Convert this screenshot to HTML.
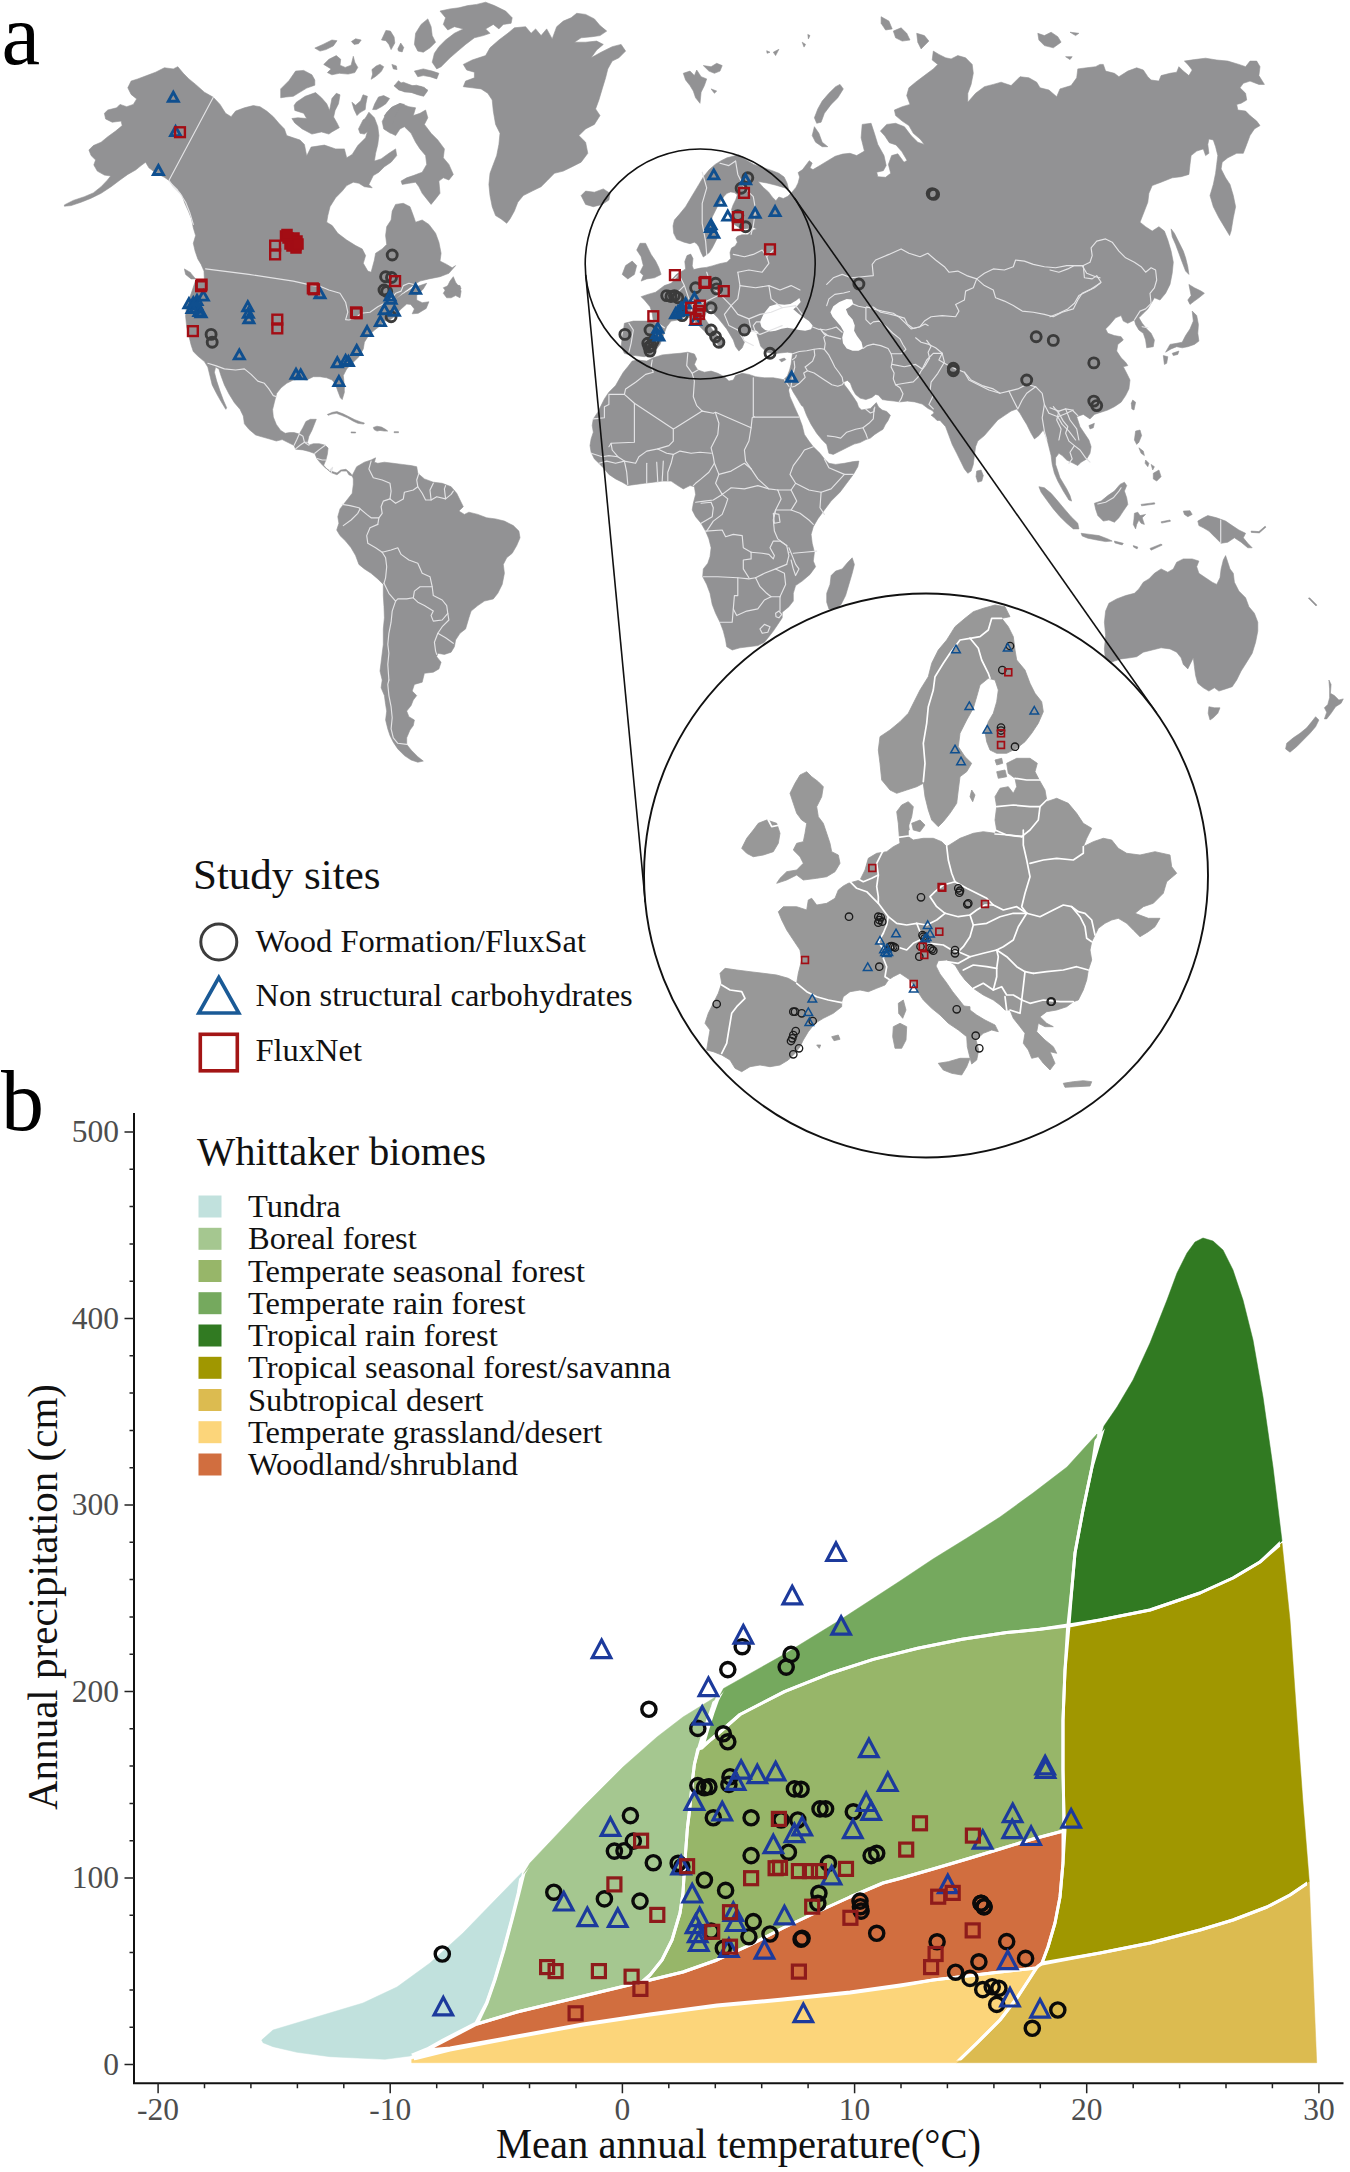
<!DOCTYPE html>
<html><head><meta charset="utf-8"><title>Figure</title>
<style>
html,body{margin:0;padding:0;background:#fff}
body{width:1350px;height:2172px;overflow:hidden}
svg text{font-family:"Liberation Serif","DejaVu Serif",serif}
</style></head><body>
<svg width="1350" height="2172" viewBox="0 0 1350 2172" style="display:block">
<rect width="1350" height="2172" fill="#fff"/>
<g id="map">
<g fill="#929294" stroke="#929294" stroke-width="0.6" stroke-linejoin="round">
<polygon points="204.4,280.0 204.0,271.1 201.1,264.4 197.8,258.9 195.1,251.1 193.3,243.3 195.6,235.6 193.3,227.8 191.6,218.9 188.4,211.1 184.9,203.3 182.2,195.6 177.8,189.3 172.9,184.4 168.9,180.4 164.4,177.3 158.9,174.4 153.3,171.1 148.9,167.8 145.6,162.2 141.1,165.6 135.6,170.0 127.8,174.4 120.0,180.0 111.1,186.7 101.1,193.3 91.1,198.2 81.1,202.2 71.1,205.6 64.4,206.2 64.4,204.9 73.3,200.4 84.4,196.7 93.3,192.9 101.1,186.7 107.1,180.4 110.7,176.0 104.4,175.1 97.3,171.1 93.8,164.9 95.6,160.0 91.1,155.6 88.9,150.0 93.3,145.6 101.1,142.2 107.8,136.7 115.6,131.1 122.2,125.6 121.1,121.1 112.2,122.2 105.6,118.9 104.4,113.3 107.8,110.0 116.7,107.8 120.0,104.4 126.7,106.7 133.3,104.4 136.7,98.9 131.1,94.4 127.8,87.8 131.1,81.1 137.8,78.9 146.7,75.6 155.6,72.2 164.4,67.8 173.3,68.9 177.8,66.7 183.3,73.3 188.9,78.9 195.6,84.4 204.4,92.2 213.3,97.3 220.0,104.4 225.6,113.3 231.1,116.7 235.6,111.1 244.4,107.8 253.3,105.6 260.0,106.7 266.7,111.1 273.3,116.7 278.9,123.3 284.4,128.9 286.7,135.6 293.3,137.8 300.0,140.0 304.4,144.4 306.7,156.0 311.1,147.1 324.4,145.1 335.6,148.9 344.4,148.9 346.7,157.8 352.2,154.4 357.8,145.6 365.6,137.8 368.9,126.7 365.6,117.8 368.9,112.2 374.4,117.8 377.8,126.7 378.9,135.6 377.8,144.4 375.6,153.3 374.4,161.1 381.1,158.9 388.9,153.3 395.6,148.9 396.7,155.6 391.1,162.2 384.4,166.7 378.9,172.2 373.3,175.6 368.9,184.4 372.2,187.8 364.4,186.7 358.9,183.3 353.3,182.2 346.7,185.6 342.2,191.1 335.6,197.8 330.0,206.7 327.8,215.6 326.7,222.2 332.2,225.6 337.8,233.3 346.7,240.0 355.6,245.6 362.2,248.9 365.6,255.6 363.3,263.3 367.8,271.1 371.1,272.2 374.4,260.0 375.6,253.3 382.2,248.9 386.7,244.4 385.6,235.6 386.7,226.7 391.1,220.0 392.2,211.1 395.6,204.4 403.3,203.3 410.0,206.7 413.3,215.6 415.6,222.2 422.2,220.0 428.9,224.4 435.6,233.3 438.9,242.2 441.1,253.3 440.0,261.1 446.7,264.4 452.2,267.8 455.6,265.6 448.9,273.3 440.0,276.7 428.9,278.9 420.0,281.1 411.1,286.7 402.2,293.3 395.6,298.9 404.4,293.3 413.3,287.8 426.7,283.3 423.3,288.9 416.7,295.6 416.7,300.0 422.2,302.7 428.9,301.8 426.2,308.4 418.2,313.3 412.2,313.8 414.4,308.9 410.7,304.4 406.7,304.0 400.0,310.0 395.6,315.6 390.0,320.0 384.4,321.1 378.9,326.7 373.3,331.1 367.8,336.7 364.4,342.2 363.3,348.9 358.9,356.7 352.2,363.3 346.7,368.9 343.3,375.6 344.4,386.7 342.2,395.6 341.8,376.7 344.0,384.4 344.4,392.2 342.2,399.6 340.4,397.8 337.8,391.1 335.6,384.4 332.2,380.0 326.7,377.8 320.0,376.7 313.3,376.7 306.7,380.0 300.0,378.9 293.3,380.0 286.7,383.3 281.1,387.8 276.7,393.3 274.4,402.2 272.6,409.6 273.3,417.0 276.3,424.4 280.7,430.4 285.2,433.3 289.6,432.6 294.1,432.6 299.3,434.1 303.0,427.4 305.9,421.5 310.4,419.3 316.3,419.3 311.9,430.4 308.9,436.3 307.4,442.2 308.9,445.2 313.3,443.7 319.3,443.7 325.2,445.2 328.1,448.1 327.4,454.1 325.9,460.0 323.7,465.2 326.7,468.9 331.1,472.6 337.0,474.8 341.5,471.1 346.7,471.1 348.9,474.8 352.6,476.3 350.4,473.0 345.9,469.3 340.7,470.1 337.0,473.0 329.6,470.7 325.2,467.7 320.7,463.3 317.0,458.8 314.8,453.6 308.9,451.4 303.0,449.9 295.6,449.2 294.1,445.5 288.1,442.5 282.2,439.6 276.3,441.0 268.9,438.8 260.0,436.3 255.6,434.9 248.9,429.3 244.4,423.8 243.3,416.0 240.0,409.3 234.4,402.7 228.9,393.8 224.4,384.9 221.1,376.0 218.9,368.9 215.6,367.1 214.4,372.2 216.7,381.1 220.0,391.1 223.3,400.0 226.7,407.8 225.8,409.3 221.1,401.6 216.7,393.8 212.2,384.9 210.0,376.0 207.8,367.1 204.4,361.6 197.8,356.0 193.3,351.6 191.1,344.9 188.9,336.0 186.7,327.1 185.6,316.0 186.7,304.9 191.1,293.8 195.6,280.4"/>
<polygon points="384.4,115.6 391.1,107.8 400.0,103.3 408.9,106.7 415.6,107.8 413.3,115.6 420.0,113.3 425.6,110.0 427.8,117.8 424.4,124.4 431.1,133.3 437.8,140.0 444.4,148.9 443.3,157.8 448.9,164.4 453.3,174.4 448.9,180.0 443.3,177.8 438.9,181.1 440.0,193.3 435.6,198.9 431.1,204.4 426.7,198.9 422.2,193.3 418.9,186.7 415.6,182.2 408.9,183.3 402.2,184.4 401.1,181.1 406.7,177.8 413.3,175.6 422.2,172.2 426.7,164.4 425.6,155.6 420.0,148.9 415.6,142.2 411.1,133.3 404.4,126.7 400.0,128.9 395.6,135.6 391.1,133.3 387.8,124.4"/>
<polygon points="463.3,64.4 472.2,60.0 485.6,55.6 490.0,47.8 498.9,40.0 507.8,33.3 514.4,27.8 525.6,26.7 531.1,33.3 535.6,28.9 541.1,35.6 546.7,28.9 552.2,38.9 556.7,26.7 563.3,21.1 571.1,17.8 576.7,13.3 585.6,14.4 594.4,18.9 600.0,25.6 606.7,31.1 600.0,35.6 592.2,36.7 581.1,37.8 574.4,42.2 585.6,42.2 596.7,41.1 603.3,44.4 596.7,50.0 591.1,57.8 601.1,52.2 612.2,46.7 621.1,44.4 625.6,51.1 618.9,57.8 612.2,61.1 607.8,68.9 605.6,77.8 602.2,88.9 598.9,100.0 595.6,108.9 600.0,115.6 594.4,124.4 585.6,128.9 578.9,135.6 585.6,142.2 587.8,153.3 581.1,162.2 572.2,166.7 563.3,171.1 554.4,173.3 547.8,180.0 541.1,186.7 532.2,191.1 523.3,195.6 517.8,202.2 514.4,211.1 510.0,218.9 506.7,223.3 501.1,218.9 495.6,215.6 492.2,206.7 490.0,195.6 488.9,184.4 490.0,173.3 493.3,164.4 496.7,155.6 498.9,144.4 500.0,133.3 495.6,124.4 493.3,111.1 492.2,100.0 487.8,93.3 481.1,88.9 472.2,87.8 463.3,86.7 465.6,81.1 474.4,77.8 474.4,72.2 466.7,70.0"/>
<polygon points="581.1,195.6 585.6,191.1 594.4,192.2 603.3,188.9 610.0,193.3 608.9,200.0 602.2,204.4 593.3,206.7 585.6,204.4"/>
<polygon points="440.0,11.1 450.0,8.9 458.9,7.8 467.8,5.6 476.7,4.4 485.6,2.2 494.4,5.6 505.6,11.1 512.2,17.8 511.1,23.3 503.3,24.4 498.9,28.9 493.3,24.4 485.6,28.9 490.0,33.3 483.3,35.6 474.4,37.8 465.6,44.4 457.8,51.1 450.0,57.8 441.1,66.7 436.7,68.9 432.2,62.2 434.4,53.3 438.9,46.7 445.6,40.0 454.4,33.3 463.3,28.9 454.4,26.7 447.8,30.0 443.3,24.4 445.6,17.8"/>
<polygon points="415.6,33.3 421.1,24.4 427.8,18.9 431.1,26.7 432.2,35.6 435.6,42.2 430.0,47.8 423.3,52.2 417.8,51.1 414.4,44.4"/>
<polygon points="414.4,71.1 423.3,68.9 432.2,71.1 438.9,73.3 436.7,78.9 430.0,76.7 423.3,75.6 417.8,76.7"/>
<polygon points="394.4,85.6 403.3,82.2 412.2,85.6 421.1,86.7 427.8,90.0 423.3,95.6 414.4,93.3 407.8,91.1 398.9,90.0"/>
<polygon points="280.7,88.9 288.9,80.7 295.6,71.1 303.7,70.4 311.9,74.8 314.8,80.0 314.8,85.2 306.7,88.1 299.3,92.6 293.3,96.3 285.9,97.0 280.7,97.8"/>
<polygon points="296.3,102.2 305.2,96.3 315.6,92.6 321.5,97.8 326.7,103.7 329.6,110.4 331.9,98.5 336.3,93.3 340.0,94.8 338.5,103.7 335.1,110.4 333.6,117.0 337.0,123.0 339.3,127.7 331.9,131.9 328.9,134.1 321.5,131.9 311.9,134.1 302.2,128.9 294.8,123.0 291.9,118.5 297.8,117.8 306.7,118.5 303.7,113.3 294.8,110.4 294.1,105.5"/>
<polygon points="314.8,48.1 323.0,44.4 331.9,40.0 337.0,40.7 333.3,45.9 325.9,49.6 320.0,51.1"/>
<polygon points="323.7,64.4 328.9,59.3 336.3,55.6 340.7,59.3 340.0,65.2 345.2,67.4 351.1,65.2 353.3,56.3 354.8,62.2 357.8,67.4 354.8,72.6 348.1,74.1 339.3,73.3 331.9,74.8 327.4,72.6 331.1,68.9 327.4,66.7"/>
<polygon points="351.4,41.5 355.6,38.8 361.2,40.0 358.5,43.7 354.1,44.4"/>
<polygon points="371.9,69.6 376.3,65.9 380.0,64.4 383.7,66.7 381.5,71.1 378.5,74.1 374.8,77.0 371.1,79.3 372.6,74.1"/>
<polygon points="381.5,40.0 385.9,30.4 390.4,31.1 394.1,37.0 394.8,43.0 391.1,49.6 388.9,44.4 385.9,40.7"/>
<polygon points="397.8,48.9 400.7,43.0 403.7,47.4 402.2,51.9 398.5,51.1"/>
<polygon points="391.9,64.4 396.3,65.9 397.0,69.6 393.3,68.9"/>
<polygon points="374.8,103.7 378.5,97.0 383.7,95.6 389.6,98.5 385.9,103.7 381.5,106.7 376.3,109.6 372.6,109.6"/>
<polygon points="351.9,102.2 355.6,105.2 360.7,100.7 363.0,94.8 367.4,96.3 365.9,103.7 365.2,109.6 360.0,112.6 357.0,115.6 354.1,109.6"/>
<polygon points="386.7,112.6 392.6,106.7 400.0,103.7 404.4,104.4 398.5,109.6 394.8,117.0 392.6,124.4 395.6,130.4 390.4,133.3 383.7,128.9 382.2,121.5"/>
<polygon points="358.5,128.9 363.0,120.0 368.1,116.3 370.4,123.0 368.9,130.4 364.4,134.1 360.0,133.3"/>
<polygon points="394.1,85.9 398.5,80.7 403.0,84.4 408.9,86.7 416.3,85.2 424.4,87.4 427.4,91.1 423.7,96.3 417.8,94.8 411.9,92.6 404.4,91.9 398.5,89.6"/>
<polygon points="443.3,293.3 446.7,287.8 450.0,281.1 453.3,276.7 455.6,282.2 458.9,286.7 461.1,291.1 460.0,297.8 455.6,295.6 451.1,297.8 446.7,297.8"/>
<polygon points="443.3,287.8 451.1,284.4 460.0,285.6 461.1,288.9 455.6,291.1 446.7,292.2"/>
<polygon points="327.4,414.4 332.6,412.3 337.0,411.6 343.0,413.8 348.9,416.7 354.8,419.7 360.7,421.9 364.4,423.0 363.7,424.1 357.8,423.3 353.3,421.2 347.4,417.8 341.5,415.3 336.3,413.3 331.9,414.1 328.1,415.3"/>
<polygon points="373.3,427.4 377.0,426.2 381.5,427.1 385.9,429.6 387.7,431.1 384.4,431.1 380.0,430.4 377.0,431.1 374.1,429.6"/>
<polygon points="394.1,431.7 398.5,431.7 398.5,432.7 394.1,432.7"/>
<polygon points="351.1,431.9 355.6,432.1 355.6,433.0 351.1,432.9"/>
<polygon points="184.4,268.9 190.0,272.2 195.6,278.9 191.1,278.9 185.6,274.4"/>
<polygon points="352.2,475.6 356.7,466.7 364.4,462.2 371.1,460.0 375.6,457.8 374.4,462.2 377.8,463.3 384.4,462.2 393.3,463.3 402.2,464.4 411.1,465.6 416.7,466.7 417.8,473.3 424.4,478.9 433.3,482.2 442.2,483.3 451.1,486.7 456.7,493.3 460.0,500.0 463.3,506.7 458.9,511.1 464.4,514.4 468.9,512.2 477.8,514.4 486.7,517.8 495.6,518.9 504.4,521.1 513.3,525.6 518.9,531.1 520.0,537.8 516.7,545.6 512.2,553.3 506.7,557.8 503.3,564.4 504.4,573.3 502.2,584.4 497.8,593.3 493.3,598.9 484.4,601.1 477.8,605.6 471.1,611.1 468.9,617.8 465.6,628.9 460.0,633.3 455.6,640.0 454.4,646.7 451.1,652.2 444.4,654.4 437.8,653.3 436.7,656.7 441.1,662.2 438.9,668.9 433.3,672.2 424.4,673.3 422.2,682.2 414.4,684.4 412.2,691.1 416.7,695.6 413.3,700.0 411.1,705.6 406.7,711.1 408.9,716.7 414.4,720.0 413.3,725.6 410.0,730.0 406.7,737.8 406.7,744.4 411.1,750.0 417.8,756.7 423.3,761.1 417.8,762.2 411.1,760.0 404.4,755.6 397.8,748.9 393.3,742.2 390.0,735.6 387.8,728.9 385.6,720.0 386.7,711.1 385.6,704.4 384.4,695.6 381.1,687.8 382.2,680.0 380.0,671.1 381.1,662.2 382.2,653.3 383.3,644.4 383.3,640.0 383.3,628.9 384.4,617.8 384.0,606.7 383.3,595.6 383.3,584.4 377.8,578.9 371.1,573.3 364.4,568.9 358.9,564.4 355.6,555.6 351.1,547.8 345.6,541.1 340.0,535.6 336.7,530.0 338.9,523.3 337.8,516.7 340.0,508.9 344.4,503.3 347.8,498.9 352.2,493.3 353.3,484.4 353.3,478.9"/>
<polygon points="632.2,361.1 637.8,360.0 646.7,361.1 653.3,357.8 662.2,354.9 671.1,354.0 680.0,353.3 687.8,352.2 694.4,354.0 696.7,358.9 694.4,364.4 697.8,370.0 704.4,372.2 711.1,371.1 717.8,373.3 724.4,376.7 728.9,381.1 733.3,380.0 735.6,375.6 742.2,373.3 748.9,374.4 755.6,376.7 764.4,377.8 773.3,377.8 780.0,378.9 784.4,380.0 787.8,386.7 790.0,396.7 794.4,406.7 798.9,416.7 802.2,425.6 804.4,434.4 808.9,441.1 813.3,446.7 820.0,453.3 824.4,458.9 828.9,463.3 835.6,464.4 844.4,463.3 853.3,461.6 858.9,461.1 857.8,466.7 853.3,474.4 846.7,483.3 840.0,492.2 831.1,501.1 824.4,510.0 817.8,518.9 813.3,526.7 811.1,534.4 812.2,543.3 814.4,552.2 813.3,561.1 815.6,566.7 810.0,574.4 802.2,581.1 795.6,585.6 793.3,593.3 793.3,601.1 788.9,606.7 782.2,612.2 782.2,617.8 777.8,624.4 773.3,631.1 768.9,636.7 764.4,642.2 757.8,645.6 748.9,646.7 740.0,647.8 732.2,650.0 726.7,646.7 725.6,640.0 723.3,631.1 720.0,622.2 715.6,613.3 712.2,604.4 710.0,593.3 706.7,584.4 702.7,576.7 703.3,568.9 707.8,563.3 710.0,556.7 711.1,547.8 708.9,538.9 705.6,531.1 701.1,523.3 695.6,516.7 692.2,510.0 693.3,503.3 695.6,494.4 694.4,486.7 690.0,485.6 683.3,488.9 677.8,485.6 671.1,481.1 662.2,481.1 653.3,482.2 644.4,483.3 635.6,484.4 627.8,485.6 622.2,482.2 615.6,478.9 608.9,474.4 604.4,468.9 598.9,463.3 594.4,458.9 591.1,452.2 590.0,445.6 591.1,438.9 593.3,432.2 592.2,425.6 593.3,418.9 597.8,412.2 601.1,405.6 604.4,398.9 608.9,392.2 615.6,385.6 620.0,377.8 623.3,372.2 627.8,366.7"/>
<polygon points="852.2,557.8 854.4,564.4 852.2,573.3 848.9,584.4 845.6,595.6 841.1,604.4 835.6,608.9 828.9,608.9 826.7,602.2 826.7,593.3 830.0,584.4 831.1,575.6 835.6,571.1 842.2,568.9 847.8,562.2"/>
<polygon points="1105.6,662.2 1104.4,648.9 1105.6,635.6 1104.4,622.2 1105.6,611.1 1108.9,603.3 1116.7,598.9 1125.6,595.6 1134.4,593.3 1138.9,588.9 1143.3,582.2 1148.9,578.9 1154.4,573.3 1161.1,568.9 1167.8,572.2 1173.3,568.9 1176.7,562.2 1183.3,558.9 1192.2,558.9 1198.9,561.1 1196.7,566.7 1198.9,573.3 1205.6,577.8 1212.2,582.2 1216.7,584.4 1220.0,577.8 1221.1,568.9 1223.3,560.0 1225.6,555.6 1227.8,562.2 1230.0,568.9 1233.3,573.3 1234.4,582.2 1238.9,591.1 1245.6,597.8 1248.9,606.7 1254.4,613.3 1257.8,622.2 1257.8,631.1 1255.6,642.2 1252.2,653.3 1246.7,662.2 1241.1,671.1 1236.7,680.0 1232.2,686.7 1225.6,688.9 1218.9,691.1 1214.4,687.8 1208.9,691.1 1203.3,687.8 1197.8,683.3 1195.6,675.6 1194.4,666.7 1193.3,657.8 1190.0,664.4 1187.8,668.9 1183.3,664.4 1181.1,657.8 1176.7,652.2 1170.0,648.9 1161.1,647.8 1152.2,650.0 1143.3,652.2 1136.7,656.7 1130.0,657.8 1121.1,658.9 1114.4,661.1 1108.9,663.3"/>
<polygon points="1208.9,706.7 1214.4,707.8 1220.0,707.8 1217.8,713.3 1213.3,717.8 1210.0,720.0 1208.2,713.3"/>
<polygon points="1328.9,680.0 1331.1,684.4 1330.4,693.3 1334.4,695.6 1338.9,700.0 1343.3,698.9 1341.1,703.3 1335.6,706.7 1331.1,713.3 1326.7,718.9 1324.4,718.9 1326.7,712.2 1324.4,707.8 1327.8,704.4 1329.6,697.8 1329.6,688.9"/>
<polygon points="1315.6,716.7 1318.9,720.0 1315.6,726.7 1310.0,733.3 1303.3,740.0 1296.7,746.7 1290.0,752.2 1285.6,748.9 1286.7,743.3 1293.3,737.8 1300.0,733.3 1306.7,727.8 1312.2,721.1"/>
<polygon points="1308.4,598.2 1309.6,597.8 1316.9,605.1 1316.0,606.0"/>
<polygon points="1197.8,521.1 1203.3,517.8 1207.8,515.6 1216.7,517.8 1225.6,521.1 1232.2,525.6 1238.9,530.0 1245.6,533.3 1243.3,537.8 1247.8,543.3 1252.2,547.8 1247.8,547.8 1241.1,542.2 1234.4,537.8 1227.8,542.2 1221.1,543.3 1215.6,537.8 1212.2,534.4 1208.9,531.1 1203.3,527.8 1198.9,525.6"/>
<polygon points="1183.3,511.1 1190.0,510.7 1192.2,514.4 1187.8,516.7 1184.4,514.4"/>
<polygon points="1094.4,503.3 1101.1,501.1 1107.8,495.6 1114.4,491.1 1120.0,484.4 1124.4,482.2 1126.7,485.6 1124.4,491.1 1126.7,497.8 1127.8,504.4 1123.3,511.1 1118.9,517.8 1114.4,522.2 1108.9,520.0 1103.3,521.1 1097.8,515.6 1095.6,508.9"/>
<polygon points="1134.4,513.3 1137.8,512.2 1140.0,515.6 1145.6,514.4 1142.2,517.8 1144.4,524.4 1141.1,523.3 1138.9,520.0 1136.7,524.4 1135.6,528.9 1133.3,524.4 1134.0,518.9"/>
<polygon points="1135.6,431.1 1140.0,430.0 1141.6,435.6 1138.9,442.2 1136.7,444.4 1134.4,440.0"/>
<polygon points="1138.9,447.8 1143.3,451.1 1144.4,455.6 1141.1,453.3"/>
<polygon points="1153.3,473.3 1158.9,470.0 1161.1,476.7 1156.7,481.1 1153.3,478.9"/>
<polygon points="1145.6,460.0 1148.9,463.3 1147.8,466.7 1145.1,463.3"/>
<polygon points="1151.1,464.4 1154.4,466.7 1152.7,470.0"/>
<polygon points="1081.1,533.3 1090.0,534.4 1098.9,535.6 1107.8,538.9 1112.2,541.1 1105.6,541.6 1096.7,540.0 1087.8,538.2 1082.2,536.0"/>
<polygon points="1114.4,541.1 1123.3,543.3 1122.2,544.9 1114.9,542.9"/>
<polygon points="1133.3,545.6 1137.8,547.1 1137.1,548.9 1133.6,547.1"/>
<polygon points="1150.0,548.4 1161.1,544.0 1162.2,545.1 1151.1,550.2"/>
<polygon points="1088.9,425.6 1094.4,423.3 1093.3,427.8 1090.0,428.9"/>
<polygon points="1132.7,400.0 1135.6,402.2 1134.0,410.0 1131.8,408.9 1131.3,403.3"/>
<polygon points="1251.1,531.1 1258.9,531.6 1265.1,526.2 1266.0,527.1 1259.3,532.9 1251.3,532.4"/>
<polygon points="1141.1,504.4 1154.4,502.7 1154.9,504.0 1141.6,505.8"/>
<polygon points="1161.1,521.8 1170.0,520.0 1170.4,521.3 1161.6,523.1"/>
<polygon points="632.2,355.6 624.4,353.3 621.1,346.7 622.2,337.8 623.3,331.1 624.4,323.3 633.3,321.1 644.4,321.1 653.3,321.1 652.2,313.3 650.0,306.7 644.4,300.0 641.1,296.7 647.8,294.4 655.6,292.2 660.0,288.9 664.4,285.6 671.1,283.3 676.7,277.8 680.0,273.3 670.7,280.7 676.7,274.1 683.3,270.4 685.6,268.9 684.8,261.5 687.0,255.6 690.7,254.1 693.0,258.5 692.2,265.9 693.7,269.6 700.4,268.1 706.3,267.4 712.2,265.9 719.6,263.7 727.0,262.2 730.7,258.5 730.0,252.6 731.5,248.1 735.2,245.9 737.4,242.2 735.9,238.5 737.4,236.3 741.9,234.8 747.8,234.8 752.2,230.4 756.7,228.9 753.7,227.4 749.3,228.1 744.8,228.9 738.9,227.4 734.4,224.4 732.2,220.0 733.0,214.1 731.5,209.6 733.0,205.2 735.9,199.3 737.4,194.8 734.4,192.6 730.7,191.9 727.0,193.3 724.1,196.3 721.1,200.7 718.1,205.2 715.2,211.1 712.2,217.0 711.5,221.5 713.7,227.4 716.7,231.9 718.1,236.3 715.2,242.2 712.2,248.1 709.3,252.6 706.3,254.8 703.3,257.0 701.1,252.6 698.9,246.7 696.7,243.7 694.4,242.2 690.0,243.7 684.1,242.2 676.7,239.3 673.7,233.3 673.0,225.9 674.4,220.0 679.6,214.1 685.6,206.7 690.0,199.3 694.4,191.9 698.9,184.4 703.3,177.0 709.3,169.6 715.2,164.4 721.1,160.7 727.0,157.8 733.0,156.3 738.9,154.8 744.8,159.3 753.7,164.4 762.6,167.4 771.5,170.4 778.9,173.3 784.1,177.0 787.0,183.0 788.5,188.9 783.3,187.4 775.9,185.2 767.0,183.0 758.1,181.5 763.3,187.4 768.5,191.9 772.2,197.0 775.9,200.7 778.9,197.0 783.3,198.5 787.8,196.3 792.2,191.9 795.9,187.4 798.1,183.0 799.6,177.0 798.1,172.6 802.6,169.6 807.0,163.7 809.3,160.7 812.2,163.0 810.0,168.1 813.0,169.6 820.4,165.2 827.8,160.7 835.2,156.3 842.6,154.1 850.0,153.3 856.7,155.6 864.4,151.1 861.1,137.8 862.2,124.4 871.1,123.3 874.4,133.3 877.8,144.4 884.0,155.6 886.2,165.6 883.3,170.7 876.7,172.2 877.8,176.7 885.6,177.3 890.7,173.3 888.4,164.4 891.6,155.6 897.8,153.8 904.0,162.2 907.1,160.4 901.8,151.6 896.0,144.9 889.3,142.7 884.9,136.0 880.4,131.1 886.7,124.4 895.6,123.3 904.4,126.7 911.1,135.6 917.8,142.2 924.4,144.4 920.0,138.9 913.3,133.3 908.9,125.6 902.2,121.1 895.6,115.6 894.4,110.0 902.2,106.7 910.0,104.4 906.7,95.6 908.9,87.8 915.6,82.2 924.4,75.6 933.3,68.9 937.8,64.4 932.2,60.0 933.3,51.1 938.9,54.4 945.6,57.8 951.1,58.9 957.8,55.6 965.6,57.8 972.2,64.4 973.3,73.3 971.1,84.4 967.8,93.3 967.8,102.2 975.6,93.3 984.4,86.7 993.3,84.4 1001.1,82.2 1011.1,85.6 1020.0,76.7 1028.9,77.8 1036.7,82.2 1040.0,87.8 1048.9,90.0 1056.7,96.7 1060.0,88.9 1071.1,85.6 1076.7,77.8 1077.8,68.9 1086.7,67.8 1095.6,66.7 1100.0,64.4 1103.3,64.4 1105.6,71.1 1114.4,73.3 1118.9,76.7 1127.8,71.1 1136.7,67.8 1143.3,70.0 1147.8,76.7 1151.1,80.0 1158.9,81.1 1161.1,75.6 1170.0,73.3 1176.7,72.2 1178.9,66.7 1183.3,71.1 1188.9,75.6 1192.2,70.0 1187.8,64.4 1184.4,61.1 1194.4,59.6 1205.6,58.2 1216.7,60.0 1227.8,61.1 1238.9,64.4 1245.6,66.7 1250.0,61.1 1256.7,61.1 1260.0,66.7 1258.9,75.6 1264.4,84.4 1258.9,84.4 1250.0,81.1 1243.3,83.3 1240.0,87.8 1245.6,93.3 1246.7,100.0 1241.1,103.3 1236.7,104.4 1237.8,110.0 1245.6,111.1 1250.0,115.6 1256.7,121.1 1260.0,125.6 1254.4,128.9 1250.0,135.6 1246.7,144.4 1243.3,153.3 1236.7,153.3 1227.8,157.8 1222.2,162.2 1221.1,168.9 1225.6,177.8 1230.0,184.4 1233.3,195.6 1235.6,206.7 1233.3,217.8 1231.1,231.1 1229.6,235.6 1225.6,228.9 1218.9,217.8 1213.3,206.7 1210.0,195.6 1213.3,184.4 1215.6,173.3 1216.7,164.4 1217.8,155.6 1215.6,146.7 1213.3,140.0 1208.9,138.9 1207.8,144.4 1208.9,153.3 1205.6,155.6 1203.3,148.9 1196.7,151.1 1191.1,155.6 1190.0,164.4 1188.9,174.4 1181.1,176.7 1172.2,177.8 1161.1,182.2 1152.2,185.6 1148.9,193.3 1147.8,202.2 1144.4,211.1 1140.0,222.2 1145.6,226.7 1152.2,231.1 1158.9,226.7 1164.4,231.1 1167.8,240.0 1171.1,251.1 1173.3,262.2 1172.2,273.3 1170.0,284.4 1165.6,293.3 1160.0,300.0 1154.4,297.8 1151.1,303.3 1147.8,308.9 1143.3,313.3 1138.9,317.8 1142.2,323.3 1146.7,328.9 1151.1,333.3 1154.4,340.0 1153.3,346.7 1146.7,347.8 1145.6,340.0 1143.3,333.3 1138.9,330.0 1135.6,324.4 1134.4,320.0 1127.8,323.3 1123.3,321.1 1121.1,315.6 1115.6,317.8 1110.0,324.4 1105.6,328.9 1107.8,333.3 1114.4,335.6 1121.1,336.7 1123.3,340.0 1117.8,344.4 1116.7,351.1 1121.1,357.8 1125.6,362.2 1127.8,365.6 1123.3,366.7 1126.7,373.3 1130.0,380.0 1128.9,388.9 1125.6,395.6 1121.1,402.2 1114.4,406.7 1107.8,410.0 1101.1,412.2 1094.4,414.4 1090.0,418.9 1083.3,414.4 1076.7,416.7 1077.8,420.0 1080.0,426.7 1084.4,433.3 1088.9,440.0 1091.1,446.7 1090.0,453.3 1086.7,458.9 1081.1,462.2 1077.8,465.6 1073.3,463.3 1066.7,460.0 1062.2,455.6 1058.9,453.3 1055.6,457.8 1055.6,464.4 1057.8,471.1 1060.0,477.8 1063.3,483.3 1066.7,488.9 1070.0,495.6 1071.6,501.1 1068.9,500.0 1063.3,491.1 1057.8,481.1 1054.4,473.3 1052.2,464.4 1051.1,455.6 1048.9,446.7 1046.7,437.8 1043.3,430.0 1038.9,435.6 1034.4,438.9 1031.1,433.3 1026.7,424.4 1023.3,418.9 1020.0,413.3 1016.7,408.9 1011.1,411.1 1004.4,415.6 997.8,420.0 991.1,427.8 984.4,435.6 977.8,441.1 975.6,446.7 974.4,455.6 973.3,464.4 971.1,471.1 967.8,473.3 964.4,468.9 961.1,462.2 956.7,453.3 952.2,444.4 948.9,435.6 945.6,426.7 940.0,420.4 937.0,420.4 934.1,417.4 931.1,415.2 934.1,413.0 932.6,410.7 928.1,408.5 922.2,404.1 914.8,401.9 907.4,401.1 900.0,401.9 894.1,401.1 888.1,400.4 882.2,399.6 878.5,395.2 875.6,394.4 871.9,397.4 865.9,399.6 860.0,398.1 855.6,394.4 852.6,389.3 850.4,383.3 847.4,380.4 843.7,381.9 844.4,384.8 847.4,388.5 851.1,393.7 854.1,398.1 857.0,402.6 858.5,407.0 861.5,410.0 865.9,409.3 870.4,408.5 874.1,404.8 876.3,402.6 878.5,407.0 882.2,410.0 886.7,411.5 890.4,415.2 888.1,420.4 885.2,424.8 883.0,429.3 879.3,431.5 874.8,434.4 870.4,438.1 865.9,439.6 860.0,442.6 854.1,444.1 848.1,447.0 842.2,450.0 840.0,451.1 833.3,454.4 828.9,453.3 826.7,444.4 822.2,440.0 816.7,433.3 811.1,424.4 806.7,415.6 803.3,406.7 801.5,405.6 797.0,398.1 793.3,392.2 791.1,387.8 790.1,385.6 789.2,388.5 787.4,392.2 785.2,387.8 783.0,383.3 782.2,381.9 784.4,378.9 787.4,375.9 789.6,370.0 791.1,364.1 791.9,358.1 792.6,353.0 787.4,352.2 780.0,353.0 774.1,353.7 766.7,352.2 760.7,346.3 758.5,338.9 757.0,334.4 758.9,332.2 755.6,330.0 751.1,331.1 746.7,333.3 742.2,335.6 744.4,342.2 742.2,347.8 738.9,351.1 735.6,346.7 733.3,340.0 730.0,334.4 726.7,328.9 722.2,323.3 717.8,317.8 713.3,313.3 711.1,308.9 706.7,311.1 704.4,317.8 708.9,324.4 713.3,331.1 717.8,335.6 722.2,340.0 724.4,344.4 721.1,348.4 717.8,344.4 715.6,342.2 708.9,335.6 702.2,328.9 695.6,322.2 691.1,317.8 685.6,316.7 677.8,320.0 671.1,321.1 666.7,326.7 663.3,335.6 660.0,344.4 653.3,353.3 644.4,356.7 635.6,355.6"/>
<polygon points="641.1,281.1 646.7,278.9 654.4,277.8 661.1,274.4 658.9,267.8 655.6,261.1 651.1,254.4 647.8,247.8 645.6,243.3 640.0,243.3 636.7,250.0 641.1,256.7 643.3,265.6 640.0,272.2 643.3,275.6"/>
<polygon points="622.2,274.4 625.6,265.6 632.2,261.1 636.7,265.6 634.4,274.4 627.8,278.9"/>
<polygon points="840.0,84.4 843.3,88.9 837.8,97.8 831.1,104.4 824.4,113.3 821.1,122.2 816.7,123.3 814.4,117.8 817.8,108.9 822.2,101.1 828.9,93.3 835.6,86.7"/>
<polygon points="814.4,126.7 818.9,133.3 822.2,142.2 827.8,146.7 822.2,146.7 815.6,142.2 812.2,135.6"/>
<polygon points="881.1,16.7 888.9,21.1 892.2,28.9 885.6,30.0 881.1,23.3"/>
<polygon points="893.3,31.1 901.1,27.8 906.7,33.3 910.0,40.0 902.2,41.1 895.6,37.8"/>
<polygon points="916.7,33.3 924.4,35.6 928.9,41.1 921.1,48.9 917.8,42.2"/>
<polygon points="1037.8,33.3 1044.4,35.6 1051.1,32.2 1057.8,36.7 1061.1,42.2 1053.3,47.8 1044.4,45.6 1038.9,40.0"/>
<polygon points="1070.0,32.2 1078.9,33.3 1075.6,35.6"/>
<polygon points="1065.6,56.7 1072.2,56.7 1070.0,59.6"/>
<polygon points="1171.1,228.9 1174.4,233.3 1178.9,242.2 1183.3,251.1 1185.6,257.8 1187.8,266.7 1188.9,274.4 1185.6,271.1 1182.2,262.2 1178.9,253.3 1175.6,244.4 1172.2,236.7"/>
<polygon points="1188.9,284.4 1194.4,287.8 1201.1,291.1 1204.4,293.3 1198.9,297.8 1194.4,301.1 1190.0,304.4 1187.8,300.0 1191.1,295.6 1190.0,290.0"/>
<polygon points="1192.2,311.1 1196.7,315.6 1198.4,324.4 1197.8,333.3 1198.9,341.1 1194.4,344.4 1187.8,346.7 1182.2,347.8 1176.7,346.7 1171.1,348.9 1165.6,352.2 1170.0,344.4 1176.7,343.3 1182.2,342.2 1185.6,335.6 1190.0,328.9 1193.3,321.1"/>
<polygon points="1163.3,355.6 1167.8,356.7 1166.7,363.3 1164.4,364.4"/>
<polygon points="1172.2,353.3 1178.9,351.1 1177.8,354.4 1173.3,355.6"/>
<polygon points="976.7,471.1 981.1,470.0 983.3,475.6 981.8,481.1 977.8,482.2 976.0,476.7"/>
<polygon points="1038.9,486.7 1044.4,487.8 1051.1,493.3 1057.8,501.1 1064.4,508.9 1071.1,516.7 1077.8,523.3 1078.9,528.9 1073.3,528.9 1066.7,523.3 1060.0,516.7 1053.3,508.9 1046.7,500.0 1041.1,492.2"/>
<polygon points="683.3,73.3 690.0,71.1 694.4,75.6 696.7,70.0 701.1,76.7 706.7,78.9 704.4,85.6 701.1,92.2 700.0,103.3 695.6,97.8 693.3,91.1 690.0,85.6 685.6,80.0"/>
<polygon points="703.3,65.6 711.1,66.7 716.7,63.3 722.2,65.6 720.0,71.1 714.4,73.3 708.9,71.1"/>
<polygon points="711.1,88.9 716.7,91.1 714.4,93.3"/>
<polygon points="766.7,50.7 770.0,52.2 767.1,53.3"/>
<polygon points="773.3,52.2 778.9,49.3 775.6,55.6"/>
<polygon points="802.2,42.2 805.6,44.4 804.0,47.1"/>
<polygon points="807.8,34.4 810.0,35.6 808.4,38.9"/>
<polygon points="779.3,359.6 784.4,358.1 785.9,359.6 781.5,361.9"/>
</g>
<g fill="#fff">
<polygon points="760.0,321.9 763.7,313.7 769.6,306.3 777.0,304.1 784.4,304.8 790.4,304.1 796.3,300.4 799.3,298.1 800.7,301.9 797.0,306.3 793.3,309.3 798.5,313.7 803.7,317.4 808.9,321.1 812.6,325.6 811.1,329.3 805.2,330.7 799.3,330.0 793.3,328.8 787.4,327.8 781.5,328.8 775.6,330.7 770.4,331.5 765.2,330.0 761.5,327.0"/>
<polygon points="830.4,312.2 833.3,306.3 839.3,301.9 846.7,298.9 851.9,299.6 853.3,304.1 849.6,307.0 845.9,309.3 848.1,314.4 852.6,319.6 854.8,325.6 854.1,330.7 857.0,335.9 861.5,341.9 863.0,348.5 858.5,350.7 852.6,350.7 846.7,348.5 843.0,343.3 842.2,337.4 843.7,331.5 840.7,326.3 836.3,321.1 832.6,316.7"/>
</g>
<g fill="none" stroke="#e4e4e6" stroke-width="1.15" stroke-linejoin="round" stroke-linecap="round">
<polyline points="371.1,461.1 368.9,468.9 373.3,477.8 382.2,480.0 390.0,483.3 391.1,491.1 390.0,498.9"/>
<polyline points="390.0,498.9 383.3,501.1 381.1,506.7 382.2,513.3 378.9,517.8 377.8,524.4"/>
<polyline points="342.2,504.4 350.0,505.6 358.9,507.8 366.7,514.4 371.1,517.8 378.9,517.8"/>
<polyline points="343.3,525.6 351.1,520.0 357.8,513.3 360.0,508.9"/>
<polyline points="377.8,524.4 370.0,527.8 366.7,535.6 367.8,543.3 375.6,547.8 382.2,552.2"/>
<polyline points="382.2,552.2 385.6,557.8 386.7,566.7 385.6,577.8 384.0,583.3"/>
<polyline points="382.2,552.2 391.1,550.0 397.8,547.8 401.1,554.4 408.9,560.0 417.8,563.3 422.2,573.3 430.0,576.7 432.2,586.7"/>
<polyline points="390.0,498.9 395.6,503.3 403.3,498.9 404.4,492.2 413.3,490.0 417.8,486.7 416.7,480.0 418.9,473.3"/>
<polyline points="417.8,486.7 422.2,493.3 425.6,500.0 431.1,500.0 436.7,496.7 445.6,498.9 451.1,494.4 453.3,491.1"/>
<polyline points="431.1,500.0 430.0,490.0 433.3,483.3"/>
<polyline points="445.6,498.9 444.4,488.9 445.6,485.6"/>
<polyline points="384.0,583.3 388.9,593.3 395.6,601.1 397.8,598.9 406.7,598.9 413.3,597.8"/>
<polyline points="413.3,597.8 414.4,591.1 420.0,586.7 432.2,586.7 433.3,595.6 442.2,600.0 446.7,605.6 447.8,613.3 442.2,620.0 433.3,621.1 431.1,615.6 433.3,611.1 424.4,605.6 417.8,602.2 413.3,597.8"/>
<polyline points="395.6,601.1 392.2,611.1 391.1,622.2 388.9,633.3 387.8,644.4 388.9,653.3 387.8,664.4 388.9,680.0"/>
<polyline points="447.8,613.3 448.9,620.0 442.2,626.7 437.8,633.3 434.4,642.2 435.6,651.1 436.7,654.4"/>
<polyline points="437.8,633.3 445.6,637.8 453.3,643.3"/>
<polyline points="388.9,680.0 387.8,684.4 388.9,695.6 391.1,706.7 392.2,717.8 391.1,728.9 393.3,737.8 397.8,743.3 406.7,744.4"/>
<polyline points="652.2,360.0 651.1,366.7 653.3,372.2 645.6,374.4 635.6,382.2 625.6,388.9 624.4,394.4"/>
<polyline points="624.4,394.4 608.9,394.4 608.9,404.4 604.4,406.7 604.4,417.8 593.3,418.9"/>
<polyline points="624.4,394.4 634.4,403.3 673.3,428.9"/>
<polyline points="634.4,403.3 634.4,442.2 611.1,443.3 608.9,446.7"/>
<polyline points="687.8,353.3 686.7,365.6 692.2,373.3 694.4,381.1 693.3,396.7 696.7,405.6 702.2,411.1"/>
<polyline points="692.2,373.3 697.8,370.0"/>
<polyline points="702.2,411.1 675.6,427.8 673.3,428.9 673.3,441.1 668.9,445.6 657.8,448.9"/>
<polyline points="702.2,411.1 713.3,413.3 715.6,412.2 751.1,427.8 752.2,417.8 754.4,416.7"/>
<polyline points="753.3,377.8 753.3,416.7"/>
<polyline points="754.4,417.1 798.9,417.1"/>
<polyline points="751.1,427.8 748.9,441.1 744.4,450.0 745.6,461.1 751.1,468.9"/>
<polyline points="715.6,413.3 718.9,423.3 717.8,434.4 711.1,447.8 713.3,456.7 714.4,463.3"/>
<polyline points="673.3,454.4 680.0,451.1 691.1,453.3 700.0,452.2 711.1,453.3"/>
<polyline points="714.4,463.3 708.9,472.2 701.1,478.9 695.6,483.3 693.3,485.6"/>
<polyline points="611.1,443.3 612.2,450.0 617.8,456.7 624.4,461.1 635.6,463.3 638.9,456.7 646.7,451.1 657.8,448.9 666.7,453.3 673.3,454.4 671.1,463.3 667.8,472.2 667.8,481.1"/>
<polyline points="646.7,463.3 646.7,483.3"/>
<polyline points="656.7,462.2 657.8,482.2"/>
<polyline points="663.3,461.1 662.2,481.1"/>
<polyline points="591.1,453.3 602.2,456.7 608.9,455.6 617.8,456.7"/>
<polyline points="598.9,463.3 606.7,461.1 615.6,463.3 624.4,461.1"/>
<polyline points="624.4,461.1 626.7,472.2 627.8,484.4"/>
<polyline points="714.4,463.3 718.9,474.4 731.1,471.1 744.4,463.3 751.1,468.9"/>
<polyline points="718.9,474.4 715.6,483.3 722.2,494.4 731.1,487.8 744.4,488.9 757.8,485.6 768.9,488.9 777.8,490.0"/>
<polyline points="751.1,468.9 757.8,478.9 768.9,488.9"/>
<polyline points="813.3,446.7 804.4,450.0 800.0,456.7 793.3,465.6 790.0,474.4 795.6,483.3 791.1,490.0 777.8,490.0"/>
<polyline points="824.4,458.9 828.9,467.8 844.4,474.4 853.3,474.4"/>
<polyline points="844.4,474.4 831.1,488.9 821.1,492.2 808.9,490.0 795.6,483.3"/>
<polyline points="821.1,492.2 820.0,507.8 824.4,514.4"/>
<polyline points="791.1,490.0 796.7,501.1 791.1,510.0"/>
<polyline points="777.8,490.0 781.1,498.9 775.6,510.0 773.8,516.7"/>
<polyline points="722.2,494.4 727.8,498.9 725.6,505.6 722.2,514.4 713.3,521.1 706.7,531.1"/>
<polyline points="701.1,503.3 711.1,502.2 713.3,507.8 712.2,516.7 701.1,523.3"/>
<polyline points="695.6,502.2 704.4,501.1 713.3,500.0 722.2,494.4"/>
<polyline points="788.9,552.2 789.1,552.4"/>
<polyline points="705.6,531.1 722.2,530.0 725.6,536.7 733.3,534.4 742.2,535.6 743.3,547.8 751.1,552.2"/>
<polyline points="751.1,552.2 751.1,558.9 743.3,560.0 743.3,568.9 748.9,577.8"/>
<polyline points="703.3,576.7 717.8,576.7 737.8,577.8 748.9,578.9 755.6,577.8"/>
<polyline points="751.1,552.2 762.2,553.3 768.9,554.4 773.3,558.9 774.4,555.6 770.0,547.8 773.3,541.1 780.0,541.1 786.7,545.6"/>
<polyline points="755.6,577.8 764.4,573.3 775.6,568.9 786.7,564.4"/>
<polyline points="775.6,568.9 784.4,573.3 785.6,584.4 780.0,596.7"/>
<polyline points="786.7,545.6 788.9,555.6 786.7,564.4"/>
<polyline points="788.9,547.8 792.2,555.6 795.6,564.4 798.9,568.9 795.6,575.6 793.3,568.9 791.1,560.0"/>
<polyline points="793.3,553.3 804.4,552.2 816.7,551.1"/>
<polyline points="775.6,510.0 791.1,510.0 800.0,513.3 808.9,520.0 813.3,524.4"/>
<polyline points="775.6,510.0 773.3,520.0 774.4,531.1 777.8,538.9 786.7,545.6"/>
<polyline points="773.3,513.3 778.9,514.4 780.0,522.2 774.4,523.3 773.3,513.3"/>
<polyline points="737.8,577.8 737.8,595.6 734.4,595.6 733.3,608.9 732.2,622.2 720.0,622.2"/>
<polyline points="733.3,608.9 736.7,615.6 746.7,611.1 757.8,608.9 764.4,600.0 771.1,596.7 780.0,596.7"/>
<polyline points="755.6,577.8 760.0,586.7 766.7,593.3 771.1,596.7"/>
<polyline points="780.0,596.7 780.0,611.1"/>
<polyline points="775.6,613.3 778.9,611.1 781.8,614.4 778.9,617.8 776.0,616.7 775.6,613.3"/>
<polyline points="760.0,628.9 764.4,624.4 770.0,626.7 767.8,632.2 762.2,633.3 760.0,628.9"/>
<polyline points="1220.7,520.0 1220.7,543.3"/>
<polyline points="1097.8,504.0 1105.6,502.2 1113.3,497.8 1118.9,491.1 1121.1,487.8"/>
<polyline points="826.7,284.4 833.3,277.8 842.2,274.4 851.1,277.8 862.2,276.7 873.3,275.6 872.2,264.4 875.6,260.0 888.9,254.4 901.1,248.9 908.9,253.3 920.0,256.7 927.8,253.3 935.6,260.0 944.4,266.7 948.9,272.2 957.8,271.1 966.7,275.6 976.7,278.9"/>
<polyline points="976.7,278.9 984.4,273.3 993.3,268.9 1004.4,270.0 1013.3,266.7 1015.6,260.0 1024.4,261.1 1033.3,264.4 1044.4,266.7 1055.6,267.8 1066.7,265.6 1082.2,265.6 1086.7,273.3 1095.6,276.7 1100.0,277.8"/>
<polyline points="976.7,278.9 984.4,285.6 993.3,290.0 995.6,297.8 1004.4,301.1 1013.3,305.6 1022.2,311.1 1033.3,312.2 1044.4,314.4 1053.3,316.7 1062.2,312.2 1073.3,308.9 1077.8,300.0 1082.2,293.3 1091.1,288.9 1100.0,283.3"/>
<polyline points="866.7,306.7 873.3,308.9 882.2,311.1 893.3,313.3 900.0,317.8 906.7,324.4 911.1,328.9 920.0,326.7 924.4,321.1 931.1,316.7 942.2,315.6 955.6,316.7 958.9,311.1 955.6,304.4 964.4,300.0 965.6,291.1 973.3,287.8 976.7,278.9"/>
<polyline points="915.6,337.8 921.1,342.2 928.9,344.4 935.6,347.8 942.2,353.3 938.9,360.0 946.7,364.4 955.6,368.9 964.4,372.2 968.9,380.0 977.8,384.4 988.9,390.0 1000.0,393.3 1008.9,391.1 1017.8,388.9 1026.7,384.4 1035.6,386.7 1042.2,393.3 1044.4,404.4 1048.9,413.3 1057.8,416.7 1066.7,413.3 1073.3,410.0"/>
<polyline points="892.2,364.4 904.4,366.7 915.6,364.4 922.2,368.9 926.7,360.0 933.3,353.3 942.2,353.3"/>
<polyline points="942.2,353.3 944.4,362.2 937.8,373.3 931.1,382.2 930.0,391.1 933.3,395.6 928.9,404.4 933.3,408.9"/>
<polyline points="964.4,372.2 971.1,380.0 982.2,385.6 993.3,388.9 1000.0,393.3"/>
<polyline points="1008.9,391.1 1013.3,400.0 1017.8,408.9 1022.2,400.0 1026.7,393.3 1035.6,386.7"/>
<polyline points="1044.4,404.4 1042.2,417.8 1044.4,431.1 1046.7,440.0"/>
<polyline points="1057.8,416.7 1062.2,424.4 1068.9,431.1 1075.6,440.0"/>
<polyline points="1050.0,270.0 1058.9,272.2 1067.8,268.9 1074.4,265.6 1083.3,265.6 1090.0,262.2 1092.2,255.6 1091.1,247.8 1096.7,241.1 1105.6,238.9 1112.2,242.2 1118.9,251.1 1125.6,257.8 1134.4,262.2 1141.1,266.7 1145.6,272.2 1151.1,267.8 1155.6,270.0 1156.7,280.0 1154.4,287.8 1150.0,293.3 1151.1,303.3"/>
<polyline points="1083.3,265.6 1084.4,277.8 1092.2,278.9 1096.7,275.6 1101.1,282.2 1094.4,287.8 1087.8,291.1 1078.9,295.6 1074.4,303.3 1067.8,308.9 1058.9,313.3 1050.0,316.7"/>
<polyline points="1151.1,303.3 1145.6,308.9 1140.0,311.1 1134.4,320.0"/>
<polyline points="1142.2,326.7 1147.8,327.8"/>
<polyline points="1050.0,407.8 1058.9,411.1 1065.6,408.9 1072.2,410.0 1077.8,415.6"/>
<polyline points="1058.9,411.1 1056.7,420.0 1061.1,428.9 1058.9,440.0"/>
<polyline points="1065.6,408.9 1070.0,420.0 1076.7,428.9 1078.9,440.0"/>
<polyline points="1053.3,406.7 1058.9,413.3 1063.3,421.1 1067.8,426.7 1065.6,433.3 1068.9,441.1 1074.4,445.6 1080.0,450.0 1085.6,457.8 1090.0,462.2"/>
<polyline points="1074.4,445.6 1070.0,452.2 1072.2,458.9 1068.9,463.3"/>
<polyline points="702.2,172.2 706.7,187.8 702.2,203.3 702.2,223.3 705.6,241.1 706.7,254.4"/>
<polyline points="735.6,161.1 737.8,174.4 744.4,187.8 753.3,196.7 755.6,210.0 753.3,225.6 751.1,234.4"/>
<polyline points="720.0,163.3 728.9,165.6 735.6,161.1"/>
<polyline points="733.3,254.4 744.4,256.7 753.3,254.4 762.2,250.0 766.7,256.7"/>
<polyline points="737.8,272.2 748.9,270.0 762.2,272.2 768.9,263.3 766.7,256.7 773.3,250.0"/>
<polyline points="737.8,272.2 740.0,285.6 737.8,298.9 731.1,305.6"/>
<polyline points="740.0,285.6 755.6,287.8 768.9,285.6 780.0,290.0 791.1,285.6 800.0,290.0"/>
<polyline points="706.7,272.2 711.1,285.6 720.0,294.4 731.1,305.6 737.8,314.4 748.9,318.9 760.0,314.4"/>
<polyline points="720.0,294.4 711.1,298.9 702.2,303.3 693.3,301.1"/>
<polyline points="684.4,285.6 688.9,298.9 693.3,301.1 691.1,312.2 684.4,316.7"/>
<polyline points="731.1,305.6 724.4,314.4 728.9,325.6 737.8,330.0"/>
<polyline points="748.9,318.9 751.1,330.0 760.0,334.4 771.1,330.0 782.2,325.6"/>
<polyline points="768.9,285.6 771.1,298.9 782.2,307.8 795.6,305.6 802.2,314.4"/>
<polyline points="760.0,314.4 771.1,312.2 782.2,307.8"/>
<polyline points="737.8,330.0 744.4,341.1 753.3,345.6"/>
<polyline points="666.7,290.0 675.6,294.4 684.4,285.6 680.0,276.7"/>
<polyline points="628.9,323.3 633.3,330.0 631.1,343.3 628.9,352.2"/>
<polyline points="648.9,318.9 657.8,323.3 664.4,327.8"/>
<polyline points="792.6,353.7 799.3,351.5 806.7,350.7 814.1,349.3 820.0,348.5 824.4,349.3"/>
<polyline points="824.4,349.3 825.2,343.3 823.7,337.4 826.7,334.4 823.0,332.2 820.7,329.3"/>
<polyline points="812.6,327.0 818.5,329.3 820.7,329.3 825.9,330.0 831.9,328.5 836.3,327.0 842.2,332.2"/>
<polyline points="820.7,329.3 824.4,334.4 828.9,335.9 834.8,337.4 840.7,338.9"/>
<polyline points="814.1,349.3 814.8,355.2 812.6,361.1 808.1,364.8 805.2,367.0"/>
<polyline points="805.2,367.0 807.4,370.7 803.7,373.0 805.2,377.4 799.3,383.3 794.8,386.3 791.9,387.0"/>
<polyline points="794.1,361.1 794.8,367.0 793.3,373.0 791.9,380.4 791.1,386.3"/>
<polyline points="792.6,359.6 795.6,357.4 796.3,355.2"/>
<polyline points="807.4,370.7 814.1,373.0 823.0,378.9 831.9,384.8 837.8,386.3 842.2,384.8 843.7,382.6"/>
<polyline points="824.4,349.3 828.9,355.2 831.9,361.1 834.8,367.0 839.3,373.0 842.2,377.4 843.0,381.9"/>
<polyline points="827.4,435.9 834.8,436.7 840.7,438.1 846.7,432.2 855.6,429.3 863.0,427.8 868.9,423.3 873.3,418.9 874.1,408.5"/>
<polyline points="863.0,427.8 865.9,433.7 867.4,438.1"/>
<polyline points="865.9,409.3 870.4,413.0 874.1,411.5 874.8,407.0"/>
<polyline points="863.0,348.5 867.4,345.6 873.3,344.1 880.7,345.6 888.1,348.5 891.1,353.7 892.6,359.6 891.1,367.0 894.1,373.0 893.3,378.9 895.6,384.8 900.0,387.8 903.0,393.7 901.5,398.1 899.3,401.9"/>
<polyline points="895.6,384.8 904.4,383.3 913.3,381.9 917.8,377.4 920.7,371.5 925.2,365.6 929.6,358.1 928.1,352.2 931.1,346.3 926.7,340.4"/>
<polyline points="853.3,304.1 858.5,306.3 865.9,307.8 865.9,319.6 870.4,324.1 873.3,321.9 879.3,321.1 886.7,327.0 892.6,333.0 900.0,338.9 903.0,344.8 905.9,349.3 901.5,353.7 891.1,353.7"/>
<polyline points="865.9,307.8 873.3,307.0 880.7,312.2 888.1,313.7 897.0,315.9 904.4,318.1 907.4,324.1 913.3,328.5 919.3,327.0 925.2,324.1 928.1,325.6"/>
<polyline points="784.4,379.6 788.9,386.3"/>
<polyline points="754.8,330.0 753.3,325.6 756.3,321.9 760.0,321.9"/>
<polyline points="826.7,305.6 828.9,298.9 834.8,294.4 843.7,293.0 849.6,291.5"/>
<polyline points="213.3,97.3 168.9,180.4 173.3,186.7 180.0,193.3 185.6,202.2 190.0,213.3 193.3,224.4"/>
<polyline points="205.6,268.9 248.9,274.4 293.3,281.1 313.3,285.6 320.0,286.2 328.9,290.0 340.0,293.3 345.6,302.2 347.8,312.2 345.6,319.6 348.9,320.0 355.6,318.2 361.1,313.3 370.0,312.2 377.8,306.7 384.4,303.3 391.1,298.9 395.6,293.3 401.1,291.1 403.3,285.6 408.9,283.3 413.3,284.4"/>
<polyline points="207.8,363.3 215.6,365.6 224.4,368.9 235.6,370.0 244.4,368.9 251.1,374.4 257.8,381.1 264.4,383.3 268.9,388.9 273.3,395.6 276.7,396.7"/>
<polyline points="294.1,445.2 297.0,439.3 299.3,434.1"/>
<polyline points="299.3,434.1 303.0,436.3 304.4,442.2"/>
<polyline points="295.6,448.9 300.0,445.2 304.4,442.2 308.9,445.2"/>
<polyline points="307.4,442.2 304.4,442.2"/>
<polyline points="314.8,453.3 319.3,449.6 325.2,445.2"/>
<polyline points="317.0,458.5 322.2,460.0 325.9,460.0"/>
<polyline points="329.6,470.4 332.6,467.4 331.1,472.6"/>
</g>
<g id="mk">
<circle cx="392.2" cy="255.0" r="5.0" fill="none" stroke="#3b3b3b" stroke-width="2.9"/>
<circle cx="385.6" cy="276.7" r="5.0" fill="none" stroke="#3b3b3b" stroke-width="2.9"/>
<circle cx="391.5" cy="277.5" r="5.0" fill="none" stroke="#3b3b3b" stroke-width="2.9"/>
<circle cx="384.0" cy="290.0" r="5.0" fill="none" stroke="#3b3b3b" stroke-width="2.9"/>
<circle cx="386.7" cy="291.5" r="5.0" fill="none" stroke="#3b3b3b" stroke-width="2.9"/>
<circle cx="391.1" cy="316.7" r="5.0" fill="none" stroke="#3b3b3b" stroke-width="2.9"/>
<circle cx="211.1" cy="334.4" r="5.0" fill="none" stroke="#3b3b3b" stroke-width="2.9"/>
<circle cx="212.2" cy="342.2" r="5.0" fill="none" stroke="#3b3b3b" stroke-width="2.9"/>
<circle cx="747.8" cy="177.8" r="5.0" fill="none" stroke="#3b3b3b" stroke-width="2.9"/>
<circle cx="741.1" cy="188.2" r="5.0" fill="none" stroke="#3b3b3b" stroke-width="2.9"/>
<circle cx="737.8" cy="215.6" r="5.0" fill="none" stroke="#3b3b3b" stroke-width="2.9"/>
<circle cx="745.6" cy="226.7" r="5.0" fill="none" stroke="#3b3b3b" stroke-width="2.9"/>
<circle cx="695.6" cy="287.8" r="5.0" fill="none" stroke="#3b3b3b" stroke-width="2.9"/>
<circle cx="715.6" cy="283.3" r="5.0" fill="none" stroke="#3b3b3b" stroke-width="2.9"/>
<circle cx="716.7" cy="288.9" r="5.0" fill="none" stroke="#3b3b3b" stroke-width="2.9"/>
<circle cx="666.7" cy="295.6" r="5.0" fill="none" stroke="#3b3b3b" stroke-width="2.9"/>
<circle cx="674.4" cy="295.6" r="5.0" fill="none" stroke="#3b3b3b" stroke-width="2.9"/>
<circle cx="677.8" cy="297.8" r="5.0" fill="none" stroke="#3b3b3b" stroke-width="2.9"/>
<circle cx="671.0" cy="296.5" r="5.0" fill="none" stroke="#3b3b3b" stroke-width="2.9"/>
<circle cx="711.1" cy="307.8" r="5.0" fill="none" stroke="#3b3b3b" stroke-width="2.9"/>
<circle cx="682.2" cy="315.6" r="5.0" fill="none" stroke="#3b3b3b" stroke-width="2.9"/>
<circle cx="744.4" cy="330.0" r="5.0" fill="none" stroke="#3b3b3b" stroke-width="2.9"/>
<circle cx="711.1" cy="330.0" r="5.0" fill="none" stroke="#3b3b3b" stroke-width="2.9"/>
<circle cx="715.6" cy="336.7" r="5.0" fill="none" stroke="#3b3b3b" stroke-width="2.9"/>
<circle cx="718.9" cy="342.2" r="5.0" fill="none" stroke="#3b3b3b" stroke-width="2.9"/>
<circle cx="770.0" cy="353.3" r="5.0" fill="none" stroke="#3b3b3b" stroke-width="2.9"/>
<circle cx="624.9" cy="334.4" r="5.0" fill="none" stroke="#3b3b3b" stroke-width="2.9"/>
<circle cx="650.0" cy="330.0" r="5.0" fill="none" stroke="#3b3b3b" stroke-width="2.9"/>
<circle cx="647.8" cy="343.3" r="5.0" fill="none" stroke="#3b3b3b" stroke-width="2.9"/>
<circle cx="651.1" cy="345.6" r="5.0" fill="none" stroke="#3b3b3b" stroke-width="2.9"/>
<circle cx="653.3" cy="341.1" r="5.0" fill="none" stroke="#3b3b3b" stroke-width="2.9"/>
<circle cx="650.0" cy="351.1" r="5.0" fill="none" stroke="#3b3b3b" stroke-width="2.9"/>
<circle cx="649.0" cy="347.0" r="5.0" fill="none" stroke="#3b3b3b" stroke-width="2.9"/>
<circle cx="932.2" cy="193.6" r="5.0" fill="none" stroke="#3b3b3b" stroke-width="2.9"/>
<circle cx="933.6" cy="194.4" r="5.0" fill="none" stroke="#3b3b3b" stroke-width="2.9"/>
<circle cx="858.9" cy="284.0" r="5.0" fill="none" stroke="#3b3b3b" stroke-width="2.9"/>
<circle cx="953.3" cy="368.3" r="5.0" fill="none" stroke="#3b3b3b" stroke-width="2.9"/>
<circle cx="953.3" cy="370.8" r="5.0" fill="none" stroke="#3b3b3b" stroke-width="2.9"/>
<circle cx="1036.2" cy="336.7" r="5.0" fill="none" stroke="#3b3b3b" stroke-width="2.9"/>
<circle cx="1053.3" cy="340.4" r="5.0" fill="none" stroke="#3b3b3b" stroke-width="2.9"/>
<circle cx="1026.7" cy="380.0" r="5.0" fill="none" stroke="#3b3b3b" stroke-width="2.9"/>
<circle cx="1093.8" cy="362.9" r="5.0" fill="none" stroke="#3b3b3b" stroke-width="2.9"/>
<circle cx="1093.8" cy="401.1" r="5.0" fill="none" stroke="#3b3b3b" stroke-width="2.9"/>
<circle cx="1096.7" cy="405.6" r="5.0" fill="none" stroke="#3b3b3b" stroke-width="2.9"/>
<path d="M173.3 92.2L178.3 101.2H168.3Z" fill="none" stroke="#0f4f8f" stroke-width="2.9" stroke-linejoin="miter"/>
<path d="M175.6 126.6L180.6 135.6H170.6Z" fill="none" stroke="#0f4f8f" stroke-width="2.9" stroke-linejoin="miter"/>
<path d="M158.4 165.5L163.4 174.5H153.4Z" fill="none" stroke="#0f4f8f" stroke-width="2.9" stroke-linejoin="miter"/>
<path d="M188.9 298.8L193.9 307.8H183.9Z" fill="none" stroke="#0f4f8f" stroke-width="2.9" stroke-linejoin="miter"/>
<path d="M193.3 297.7L198.3 306.7H188.3Z" fill="none" stroke="#0f4f8f" stroke-width="2.9" stroke-linejoin="miter"/>
<path d="M196.7 299.9L201.7 308.9H191.7Z" fill="none" stroke="#0f4f8f" stroke-width="2.9" stroke-linejoin="miter"/>
<path d="M195.6 303.3L200.6 312.3H190.6Z" fill="none" stroke="#0f4f8f" stroke-width="2.9" stroke-linejoin="miter"/>
<path d="M198.9 306.6L203.9 315.6H193.9Z" fill="none" stroke="#0f4f8f" stroke-width="2.9" stroke-linejoin="miter"/>
<path d="M201.1 307.7L206.1 316.7H196.1Z" fill="none" stroke="#0f4f8f" stroke-width="2.9" stroke-linejoin="miter"/>
<path d="M203.3 291.1L208.3 300.1H198.3Z" fill="none" stroke="#0f4f8f" stroke-width="2.9" stroke-linejoin="miter"/>
<path d="M192.0 303.5L197.0 312.5H187.0Z" fill="none" stroke="#0f4f8f" stroke-width="2.9" stroke-linejoin="miter"/>
<path d="M197.0 295.5L202.0 304.5H192.0Z" fill="none" stroke="#0f4f8f" stroke-width="2.9" stroke-linejoin="miter"/>
<path d="M247.8 301.7L252.8 310.7H242.8Z" fill="none" stroke="#0f4f8f" stroke-width="2.9" stroke-linejoin="miter"/>
<path d="M248.4 308.4L253.4 317.4H243.4Z" fill="none" stroke="#0f4f8f" stroke-width="2.9" stroke-linejoin="miter"/>
<path d="M248.9 313.7L253.9 322.7H243.9Z" fill="none" stroke="#0f4f8f" stroke-width="2.9" stroke-linejoin="miter"/>
<path d="M239.3 349.9L244.3 358.9H234.3Z" fill="none" stroke="#0f4f8f" stroke-width="2.9" stroke-linejoin="miter"/>
<path d="M296.0 369.3L301.0 378.3H291.0Z" fill="none" stroke="#0f4f8f" stroke-width="2.9" stroke-linejoin="miter"/>
<path d="M300.7 369.9L305.7 378.9H295.7Z" fill="none" stroke="#0f4f8f" stroke-width="2.9" stroke-linejoin="miter"/>
<path d="M338.9 376.6L343.9 385.6H333.9Z" fill="none" stroke="#0f4f8f" stroke-width="2.9" stroke-linejoin="miter"/>
<path d="M337.3 357.7L342.3 366.7H332.3Z" fill="none" stroke="#0f4f8f" stroke-width="2.9" stroke-linejoin="miter"/>
<path d="M345.6 355.5L350.6 364.5H340.6Z" fill="none" stroke="#0f4f8f" stroke-width="2.9" stroke-linejoin="miter"/>
<path d="M348.4 356.6L353.4 365.6H343.4Z" fill="none" stroke="#0f4f8f" stroke-width="2.9" stroke-linejoin="miter"/>
<path d="M356.7 345.5L361.7 354.5H351.7Z" fill="none" stroke="#0f4f8f" stroke-width="2.9" stroke-linejoin="miter"/>
<path d="M367.1 326.6L372.1 335.6H362.1Z" fill="none" stroke="#0f4f8f" stroke-width="2.9" stroke-linejoin="miter"/>
<path d="M380.4 316.6L385.4 325.6H375.4Z" fill="none" stroke="#0f4f8f" stroke-width="2.9" stroke-linejoin="miter"/>
<path d="M384.4 304.8L389.4 313.8H379.4Z" fill="none" stroke="#0f4f8f" stroke-width="2.9" stroke-linejoin="miter"/>
<path d="M394.4 306.2L399.4 315.2H389.4Z" fill="none" stroke="#0f4f8f" stroke-width="2.9" stroke-linejoin="miter"/>
<path d="M390.0 291.1L395.0 300.1H385.0Z" fill="none" stroke="#0f4f8f" stroke-width="2.9" stroke-linejoin="miter"/>
<path d="M391.1 294.4L396.1 303.4H386.1Z" fill="none" stroke="#0f4f8f" stroke-width="2.9" stroke-linejoin="miter"/>
<path d="M415.6 284.4L420.6 293.4H410.6Z" fill="none" stroke="#0f4f8f" stroke-width="2.9" stroke-linejoin="miter"/>
<path d="M320.0 288.8L325.0 297.8H315.0Z" fill="none" stroke="#0f4f8f" stroke-width="2.9" stroke-linejoin="miter"/>
<path d="M713.8 169.9L718.8 178.9H708.8Z" fill="none" stroke="#0f4f8f" stroke-width="2.9" stroke-linejoin="miter"/>
<path d="M720.4 196.2L725.4 205.2H715.4Z" fill="none" stroke="#0f4f8f" stroke-width="2.9" stroke-linejoin="miter"/>
<path d="M727.8 211.1L732.8 220.1H722.8Z" fill="none" stroke="#0f4f8f" stroke-width="2.9" stroke-linejoin="miter"/>
<path d="M711.1 219.9L716.1 228.9H706.1Z" fill="none" stroke="#0f4f8f" stroke-width="2.9" stroke-linejoin="miter"/>
<path d="M710.5 222.5L715.5 231.5H705.5Z" fill="none" stroke="#0f4f8f" stroke-width="2.9" stroke-linejoin="miter"/>
<path d="M713.8 228.2L718.8 237.2H708.8Z" fill="none" stroke="#0f4f8f" stroke-width="2.9" stroke-linejoin="miter"/>
<path d="M755.1 208.2L760.1 217.2H750.1Z" fill="none" stroke="#0f4f8f" stroke-width="2.9" stroke-linejoin="miter"/>
<path d="M775.1 206.6L780.1 215.6H770.1Z" fill="none" stroke="#0f4f8f" stroke-width="2.9" stroke-linejoin="miter"/>
<path d="M745.6 174.8L750.6 183.8H740.6Z" fill="none" stroke="#0f4f8f" stroke-width="2.9" stroke-linejoin="miter"/>
<path d="M694.4 293.3L699.4 302.3H689.4Z" fill="none" stroke="#0f4f8f" stroke-width="2.9" stroke-linejoin="miter"/>
<path d="M675.6 308.8L680.6 317.8H670.6Z" fill="none" stroke="#0f4f8f" stroke-width="2.9" stroke-linejoin="miter"/>
<path d="M681.1 303.3L686.1 312.3H676.1Z" fill="none" stroke="#0f4f8f" stroke-width="2.9" stroke-linejoin="miter"/>
<path d="M685.6 298.8L690.6 307.8H680.6Z" fill="none" stroke="#0f4f8f" stroke-width="2.9" stroke-linejoin="miter"/>
<path d="M683.3 305.5L688.3 314.5H678.3Z" fill="none" stroke="#0f4f8f" stroke-width="2.9" stroke-linejoin="miter"/>
<path d="M678.0 306.5L683.0 315.5H673.0Z" fill="none" stroke="#0f4f8f" stroke-width="2.9" stroke-linejoin="miter"/>
<path d="M657.8 323.3L662.8 332.3H652.8Z" fill="none" stroke="#0f4f8f" stroke-width="2.9" stroke-linejoin="miter"/>
<path d="M656.7 328.8L661.7 337.8H651.7Z" fill="none" stroke="#0f4f8f" stroke-width="2.9" stroke-linejoin="miter"/>
<path d="M658.9 331.1L663.9 340.1H653.9Z" fill="none" stroke="#0f4f8f" stroke-width="2.9" stroke-linejoin="miter"/>
<path d="M695.6 315.5L700.6 324.5H690.6Z" fill="none" stroke="#0f4f8f" stroke-width="2.9" stroke-linejoin="miter"/>
<path d="M791.6 372.2L796.6 381.2H786.6Z" fill="none" stroke="#0f4f8f" stroke-width="2.9" stroke-linejoin="miter"/>
<rect x="280.5" y="231.0" width="10" height="10" fill="#a30d14" stroke="#a30d14" stroke-width="1.5"/>
<rect x="283.0" y="233.0" width="10" height="10" fill="#a30d14" stroke="#a30d14" stroke-width="1.5"/>
<rect x="286.0" y="235.0" width="10" height="10" fill="#a30d14" stroke="#a30d14" stroke-width="1.5"/>
<rect x="288.0" y="238.0" width="10" height="10" fill="#a30d14" stroke="#a30d14" stroke-width="1.5"/>
<rect x="291.0" y="240.0" width="10" height="10" fill="#a30d14" stroke="#a30d14" stroke-width="1.5"/>
<rect x="285.0" y="239.0" width="10" height="10" fill="#a30d14" stroke="#a30d14" stroke-width="1.5"/>
<rect x="289.0" y="233.0" width="10" height="10" fill="#a30d14" stroke="#a30d14" stroke-width="1.5"/>
<rect x="292.0" y="236.0" width="10" height="10" fill="#a30d14" stroke="#a30d14" stroke-width="1.5"/>
<rect x="282.0" y="229.5" width="10" height="10" fill="#a30d14" stroke="#a30d14" stroke-width="1.5"/>
<rect x="287.0" y="241.0" width="10" height="10" fill="#a30d14" stroke="#a30d14" stroke-width="1.5"/>
<rect x="291.0" y="243.0" width="10" height="10" fill="#a30d14" stroke="#a30d14" stroke-width="1.5"/>
<rect x="293.0" y="239.0" width="10" height="10" fill="#a30d14" stroke="#a30d14" stroke-width="1.5"/>
<rect x="175.1" y="127.3" width="9.8" height="9.8" fill="none" stroke="#a30d14" stroke-width="2.4"/>
<rect x="270.2" y="240.7" width="9.8" height="9.8" fill="none" stroke="#a30d14" stroke-width="2.4"/>
<rect x="270.2" y="249.5" width="9.8" height="9.8" fill="none" stroke="#a30d14" stroke-width="2.4"/>
<rect x="196.2" y="281.3" width="9.8" height="9.8" fill="none" stroke="#a30d14" stroke-width="2.4"/>
<rect x="196.7" y="279.7" width="9.8" height="9.8" fill="none" stroke="#a30d14" stroke-width="2.4"/>
<rect x="309.1" y="284.4" width="9.8" height="9.8" fill="none" stroke="#a30d14" stroke-width="2.4"/>
<rect x="307.9" y="283.5" width="9.8" height="9.8" fill="none" stroke="#a30d14" stroke-width="2.4"/>
<rect x="351.8" y="308.4" width="9.8" height="9.8" fill="none" stroke="#a30d14" stroke-width="2.4"/>
<rect x="351.1" y="307.5" width="9.8" height="9.8" fill="none" stroke="#a30d14" stroke-width="2.4"/>
<rect x="272.4" y="314.7" width="9.8" height="9.8" fill="none" stroke="#a30d14" stroke-width="2.4"/>
<rect x="272.4" y="323.5" width="9.8" height="9.8" fill="none" stroke="#a30d14" stroke-width="2.4"/>
<rect x="188.0" y="326.2" width="9.8" height="9.8" fill="none" stroke="#a30d14" stroke-width="2.4"/>
<rect x="390.2" y="276.2" width="9.8" height="9.8" fill="none" stroke="#a30d14" stroke-width="2.4"/>
<rect x="739.1" y="188.0" width="9.8" height="9.8" fill="none" stroke="#a30d14" stroke-width="2.4"/>
<rect x="732.9" y="212.2" width="9.8" height="9.8" fill="none" stroke="#a30d14" stroke-width="2.4"/>
<rect x="732.9" y="220.2" width="9.8" height="9.8" fill="none" stroke="#a30d14" stroke-width="2.4"/>
<rect x="765.1" y="244.4" width="9.8" height="9.8" fill="none" stroke="#a30d14" stroke-width="2.4"/>
<rect x="670.0" y="270.2" width="9.8" height="9.8" fill="none" stroke="#a30d14" stroke-width="2.4"/>
<rect x="699.5" y="278.0" width="9.8" height="9.8" fill="none" stroke="#a30d14" stroke-width="2.4"/>
<rect x="700.5" y="277.1" width="9.8" height="9.8" fill="none" stroke="#a30d14" stroke-width="2.4"/>
<rect x="718.9" y="286.2" width="9.8" height="9.8" fill="none" stroke="#a30d14" stroke-width="2.4"/>
<rect x="648.4" y="311.3" width="9.8" height="9.8" fill="none" stroke="#a30d14" stroke-width="2.4"/>
<rect x="686.2" y="302.9" width="9.8" height="9.8" fill="none" stroke="#a30d14" stroke-width="2.4"/>
<rect x="695.1" y="300.7" width="9.8" height="9.8" fill="none" stroke="#a30d14" stroke-width="2.4"/>
<rect x="694.0" y="306.2" width="9.8" height="9.8" fill="none" stroke="#a30d14" stroke-width="2.4"/>
<rect x="690.7" y="314.0" width="9.8" height="9.8" fill="none" stroke="#a30d14" stroke-width="2.4"/>
<rect x="694.1" y="309.1" width="9.8" height="9.8" fill="none" stroke="#a30d14" stroke-width="2.4"/>
</g>
<circle cx="700.2" cy="264" r="115" fill="none" stroke="#111" stroke-width="1.6"/>
<g fill="none" stroke="#111" stroke-width="1.6">
<path d="M585.7 274.9L645.3 902.2"/>
<path d="M794.3 197.9L1156.7 713.3"/>
</g>
<clipPath id="cin"><circle cx="926" cy="875.5" r="281"/></clipPath>
<circle cx="926" cy="875.5" r="282" fill="#fff" stroke="#111" stroke-width="1.9"/>
<g clip-path="url(#cin)">
<g fill="#989898" stroke="#989898" stroke-width="0.8" stroke-linejoin="round">
<polygon points="890.0,790.0 881.7,780.0 880.0,763.3 878.3,750.0 880.0,736.7 890.0,730.0 900.0,721.7 908.3,713.3 913.3,703.3 920.0,690.0 928.3,676.7 931.7,663.3 938.3,650.0 946.7,640.0 955.0,626.7 965.0,618.3 973.3,611.7 983.3,608.3 995.0,605.0 1005.0,606.7 1010.0,616.7 1001.7,618.3 1008.3,626.7 1013.3,636.7 1015.0,650.0 1016.7,660.0 1025.0,670.0 1030.0,683.3 1035.0,693.3 1041.7,701.7 1043.3,711.7 1038.3,723.3 1031.7,733.3 1025.0,741.7 1016.7,748.3 1006.7,753.3 996.7,753.3 990.0,750.0 986.7,741.7 985.0,731.7 988.3,721.7 993.3,713.3 996.7,701.7 998.3,690.0 995.0,680.0 988.3,678.3 980.0,685.0 976.7,696.7 973.3,708.3 966.7,720.0 960.0,733.3 958.3,746.7 965.0,756.7 971.7,763.3 966.7,771.7 960.0,776.7 958.3,790.0 956.7,803.3 950.0,813.3 943.3,821.7 938.3,826.7 931.7,820.0 928.3,810.0 925.0,796.7 923.3,783.3 916.7,786.7 906.7,790.0 896.7,793.3"/>
<polygon points="706.7,1050.0 708.3,1040.0 710.0,1030.0 705.0,1023.3 708.3,1013.3 713.3,1003.3 718.3,993.3 721.7,983.3 720.0,973.3 725.0,968.3 736.7,970.0 750.0,971.7 763.3,973.3 776.7,975.0 788.3,978.3 796.7,983.3 798.3,973.3 801.7,960.0 800.0,950.0 793.3,940.0 786.7,930.0 781.7,920.0 778.3,911.7 783.3,906.7 796.7,906.7 806.7,910.0 808.3,900.0 811.7,898.3 816.7,905.0 826.7,903.3 835.0,898.3 838.3,890.0 843.3,886.0 848.3,883.3 860.0,880.0 865.0,870.0 868.3,858.3 876.7,853.3 886.7,851.7 893.3,846.7 900.0,843.3 899.3,836.7 898.3,823.3 896.7,811.7 901.7,805.0 908.3,801.7 913.3,806.7 911.7,816.7 908.3,826.7 908.3,836.7 913.3,840.0 923.3,838.3 933.3,838.3 941.7,841.7 946.7,846.7 960.0,838.3 973.3,833.3 983.3,831.7 995.0,833.3 996.7,830.0 995.0,820.0 996.7,806.7 995.0,796.7 1000.0,788.3 1008.3,786.7 1013.3,793.3 1016.7,786.7 1015.0,778.3 1008.3,773.3 1006.7,763.3 1016.7,758.3 1030.0,758.3 1037.3,763.3 1035.0,771.7 1039.3,780.0 1045.0,790.0 1046.7,800.0 1046.7,801.7 1056.7,798.3 1068.3,803.3 1076.7,813.3 1083.3,823.3 1091.7,828.3 1086.7,838.3 1083.3,846.7 1083.3,846.7 1093.3,841.7 1103.3,838.3 1111.7,840.0 1118.3,848.3 1126.7,853.3 1140.0,855.0 1155.0,851.7 1170.0,855.0 1171.7,866.7 1176.7,873.3 1166.7,881.7 1163.3,893.3 1153.3,903.3 1143.3,906.7 1135.0,913.3 1148.3,918.3 1160.0,918.3 1155.0,926.7 1148.3,931.7 1140.0,936.7 1133.3,930.0 1126.7,923.3 1118.3,918.3 1111.7,920.0 1105.0,923.3 1098.3,928.3 1095.0,935.0 1091.7,941.7 1090.0,950.0 1091.7,960.0 1088.3,970.0 1086.7,980.0 1083.3,990.0 1078.3,1000.0 1073.3,1001.7 1066.7,1006.7 1056.7,1010.0 1046.7,1011.7 1040.0,1016.7 1046.7,1023.3 1053.3,1026.7 1045.0,1026.7 1038.3,1023.3 1036.7,1031.7 1045.0,1040.0 1053.3,1046.7 1056.7,1053.3 1050.0,1051.7 1055.0,1063.3 1050.0,1070.0 1043.3,1063.3 1038.3,1056.7 1031.7,1058.3 1028.3,1050.0 1023.3,1043.3 1025.0,1033.3 1020.0,1026.7 1013.3,1018.3 1010.0,1010.0 1005.0,1010.0 1005.0,1010.0 1000.0,1005.0 993.3,1000.0 983.3,995.0 973.3,988.3 965.0,980.0 960.0,973.3 955.0,965.0 946.7,960.0 938.3,960.7 936.0,966.0 940.0,974.0 946.0,982.0 952.7,991.7 959.3,1000.0 964.0,1006.0 970.0,1006.7 970.0,1010.0 976.7,1015.0 985.0,1020.0 995.0,1025.0 998.3,1031.7 991.7,1030.0 983.3,1033.3 976.0,1040.0 978.7,1050.0 976.7,1060.0 971.7,1064.0 969.3,1055.0 967.3,1046.7 966.7,1036.7 958.3,1030.0 948.3,1023.3 940.0,1015.0 931.7,1008.3 923.3,1000.0 916.7,990.0 910.0,980.0 900.0,973.3 893.3,976.7 888.3,980.0 885.0,985.0 876.7,988.3 868.3,991.7 860.0,990.0 850.0,991.7 843.3,996.7 841.7,1001.7 841.7,1006.7 833.3,1013.3 823.3,1018.3 815.0,1023.3 808.3,1031.7 803.3,1040.0 800.0,1046.7 795.0,1053.3 788.3,1060.0 780.0,1065.0 770.0,1066.7 760.0,1065.0 750.0,1066.7 741.7,1071.7 735.0,1068.3 730.0,1060.0 721.7,1055.0 713.3,1051.7"/>
<polygon points="776.7,883.3 786.7,880.0 796.7,875.0 803.3,880.0 816.7,878.3 826.7,876.7 835.0,871.7 840.0,863.3 838.3,855.0 831.7,851.7 830.0,843.3 826.7,833.3 823.3,823.3 818.3,816.7 816.7,806.7 821.7,796.7 823.3,786.7 818.3,781.7 811.7,776.7 806.7,771.7 800.0,775.0 795.0,783.3 790.0,793.3 793.3,803.3 796.7,813.3 801.7,820.0 806.7,823.3 805.0,833.3 803.3,841.7 796.7,843.3 793.3,850.0 800.0,856.7 803.3,863.3 796.7,870.0 786.7,871.7 780.0,878.3"/>
<polygon points="741.7,848.3 746.7,838.3 753.3,830.0 758.3,823.3 766.7,820.0 776.7,823.3 780.0,833.3 778.3,843.3 773.3,851.7 763.3,855.0 753.3,856.7 746.7,853.3"/>
<polygon points="938.3,1063.3 948.3,1061.7 960.0,1058.3 970.0,1058.3 966.7,1066.7 961.7,1075.0 951.7,1073.3 943.3,1070.0"/>
<polygon points="893.3,1026.7 900.0,1023.3 906.7,1026.7 906.0,1040.0 901.7,1048.3 895.0,1048.3 892.7,1036.7"/>
<polygon points="898.3,1003.3 903.3,1000.0 906.0,1010.0 902.7,1018.3 898.7,1013.3"/>
<polygon points="831.7,1036.7 838.3,1035.0 840.0,1039.3 834.0,1040.7"/>
<polygon points="816.7,1045.0 820.7,1045.0 819.3,1048.3"/>
<polygon points="1063.3,1083.3 1073.3,1081.7 1083.3,1080.7 1091.7,1081.7 1090.0,1086.0 1076.7,1086.7 1065.0,1087.3"/>
<polygon points="971.7,790.0 975.0,795.0 972.7,801.7 970.0,796.7"/>
<polygon points="911.7,823.3 920.0,820.0 925.0,825.0 920.0,831.7 913.3,830.0"/>
<polygon points="903.3,825.0 908.3,823.3 909.3,830.0 905.0,830.7"/>
<polygon points="996.7,771.7 1005.0,770.0 1006.7,776.7 998.3,778.3"/>
<polygon points="995.0,760.0 1001.7,758.3 1002.7,763.3 996.7,765.0"/>
</g>
<g fill="none" stroke="#fff" stroke-width="1.7" stroke-linejoin="round" stroke-linecap="round">
<polyline points="768.3,820.0 771.7,826.7 780.0,825.0"/>
<polyline points="923.3,781.7 925.0,763.3 923.3,743.3 926.7,723.3 928.3,706.7 933.3,690.0 935.0,676.7 943.3,663.3 950.0,653.3 960.0,640.0 970.0,638.3"/>
<polyline points="970.0,638.3 978.3,648.3 981.7,660.0 988.3,673.3 990.0,678.3"/>
<polyline points="970.0,638.3 980.0,636.7 988.3,630.0 991.7,618.3 1001.7,618.3"/>
<polyline points="1015.0,778.3 1026.7,780.0 1039.3,780.0"/>
<polyline points="996.7,806.7 1013.3,805.0 1030.0,806.7 1040.0,806.7 1046.7,800.0"/>
<polyline points="1040.0,806.7 1038.3,820.0 1030.0,830.0 1021.7,836.7"/>
<polyline points="995.0,830.0 1006.7,835.0 1021.7,836.7"/>
<polyline points="721.7,985.0 730.0,990.0 741.7,991.7 745.0,998.3 736.7,1006.7 731.7,1013.3 730.0,1023.3 728.3,1033.3 726.7,1043.3 721.7,1053.3"/>
<polyline points="796.7,983.3 806.7,991.7 816.7,996.7 828.3,1000.0 841.7,1002.7"/>
<polyline points="850.0,881.7 856.7,888.3 866.7,891.7 873.3,898.3 878.3,903.3 883.3,910.0 888.3,916.7 886.7,925.0 883.3,933.3"/>
<polyline points="883.3,933.3 878.3,941.7 881.7,946.7 886.7,950.0 883.3,958.3 886.7,966.7 885.0,976.7 890.0,980.0"/>
<polyline points="856.7,878.3 863.3,881.7 871.7,878.3 878.3,875.0"/>
<polyline points="878.3,875.0 876.7,863.3 881.7,853.3 886.7,845.0"/>
<polyline points="878.3,875.0 876.7,886.7 878.3,896.7 878.3,903.3"/>
<polyline points="898.3,837.3 908.3,836.0"/>
<polyline points="946.7,846.7 948.3,860.0 951.7,873.3 955.0,881.7"/>
<polyline points="955.0,881.7 943.3,885.0 935.0,891.7 930.0,896.7 936.7,906.7 945.0,913.3"/>
<polyline points="945.0,913.3 936.7,920.0 926.7,925.0 916.7,923.3 906.7,925.0 896.7,923.3 888.3,916.7"/>
<polyline points="886.7,950.0 896.7,946.7 906.7,950.0 913.3,943.3 920.0,940.0"/>
<polyline points="916.7,923.3 920.0,931.7 920.0,940.0"/>
<polyline points="920.0,940.0 930.0,943.3 943.3,945.0 951.7,950.0 958.3,951.7"/>
<polyline points="955.0,881.7 966.7,888.3 976.7,893.3 986.7,898.3 993.3,905.0"/>
<polyline points="945.0,913.3 958.3,916.7 970.0,915.0 976.7,910.0 985.0,905.0 993.3,905.0"/>
<polyline points="970.0,915.0 973.3,925.0 970.0,936.7 963.3,946.7 958.3,951.7"/>
<polyline points="993.3,905.0 1003.3,910.0 1016.7,906.7 1026.7,913.3"/>
<polyline points="973.3,925.0 986.7,923.3 1000.0,916.7 1013.3,913.3 1026.7,913.3"/>
<polyline points="1023.3,830.0 1023.3,845.0 1026.7,860.0 1030.0,876.7 1025.0,893.3 1021.7,906.7 1026.7,913.3"/>
<polyline points="995.0,834.0 1010.0,835.0 1023.3,836.7"/>
<polyline points="1026.7,913.3 1018.3,926.7 1013.3,940.0 1003.3,946.7 996.7,950.0"/>
<polyline points="958.3,951.7 970.0,956.7 983.3,953.3 996.7,950.0"/>
<polyline points="946.7,961.7 958.3,963.3 970.0,956.7"/>
<polyline points="963.3,970.0 973.3,965.0 986.7,966.7 996.7,968.3 998.3,956.7 996.7,950.0"/>
<polyline points="973.3,988.3 983.3,983.3 993.3,990.0 996.7,976.7 996.7,968.3"/>
<polyline points="996.7,950.0 1006.7,956.7 1016.7,966.7 1025.0,971.7 1033.3,973.3"/>
<polyline points="1026.7,913.3 1040.0,916.7 1053.3,910.0 1063.3,905.0 1071.7,906.7 1078.3,911.7 1085.0,913.3 1091.7,920.0 1095.0,935.0"/>
<polyline points="1071.7,906.7 1080.0,916.7 1085.0,926.7 1086.7,938.3 1091.7,941.7"/>
<polyline points="1033.3,973.3 1046.7,971.7 1063.3,970.0 1076.7,966.7 1088.3,970.0"/>
<polyline points="1025.0,971.7 1023.3,986.7 1021.7,1000.0 1030.0,1003.3 1043.3,1000.0 1060.0,1001.7 1073.3,1001.7"/>
<polyline points="993.3,990.0 1001.7,986.7 1006.7,995.0 1013.3,995.0 1021.7,1000.0"/>
<polyline points="1005.0,996.7 1006.7,1010.0"/>
<polyline points="1021.7,1000.0 1020.0,1013.3 1010.0,1010.0"/>
<polyline points="1030.0,863.3 1043.3,860.0 1056.7,858.3 1073.3,860.0 1083.3,853.3 1083.3,846.7"/>
</g>
<g id="imk">
<circle cx="1010.0" cy="646.0" r="3.7" fill="none" stroke="#1c1c1c" stroke-width="1.35"/>
<circle cx="1002.3" cy="670.0" r="3.7" fill="none" stroke="#1c1c1c" stroke-width="1.35"/>
<circle cx="1001.0" cy="727.5" r="3.7" fill="none" stroke="#1c1c1c" stroke-width="1.35"/>
<circle cx="1001.0" cy="730.5" r="3.7" fill="none" stroke="#1c1c1c" stroke-width="1.35"/>
<circle cx="1015.0" cy="746.7" r="3.7" fill="none" stroke="#1c1c1c" stroke-width="1.35"/>
<circle cx="921.0" cy="897.3" r="3.7" fill="none" stroke="#1c1c1c" stroke-width="1.35"/>
<circle cx="958.3" cy="888.3" r="3.7" fill="none" stroke="#1c1c1c" stroke-width="1.35"/>
<circle cx="960.0" cy="890.7" r="3.7" fill="none" stroke="#1c1c1c" stroke-width="1.35"/>
<circle cx="959.3" cy="892.7" r="3.7" fill="none" stroke="#1c1c1c" stroke-width="1.35"/>
<circle cx="968.3" cy="903.3" r="3.7" fill="none" stroke="#1c1c1c" stroke-width="1.35"/>
<circle cx="967.3" cy="904.3" r="3.7" fill="none" stroke="#1c1c1c" stroke-width="1.35"/>
<circle cx="849.0" cy="916.7" r="3.7" fill="none" stroke="#1c1c1c" stroke-width="1.35"/>
<circle cx="878.3" cy="916.7" r="3.7" fill="none" stroke="#1c1c1c" stroke-width="1.35"/>
<circle cx="880.7" cy="917.3" r="3.7" fill="none" stroke="#1c1c1c" stroke-width="1.35"/>
<circle cx="879.3" cy="920.0" r="3.7" fill="none" stroke="#1c1c1c" stroke-width="1.35"/>
<circle cx="882.3" cy="921.7" r="3.7" fill="none" stroke="#1c1c1c" stroke-width="1.35"/>
<circle cx="878.3" cy="922.7" r="3.7" fill="none" stroke="#1c1c1c" stroke-width="1.35"/>
<circle cx="955.0" cy="950.0" r="3.7" fill="none" stroke="#1c1c1c" stroke-width="1.35"/>
<circle cx="955.0" cy="953.3" r="3.7" fill="none" stroke="#1c1c1c" stroke-width="1.35"/>
<circle cx="931.7" cy="949.3" r="3.7" fill="none" stroke="#1c1c1c" stroke-width="1.35"/>
<circle cx="933.3" cy="950.7" r="3.7" fill="none" stroke="#1c1c1c" stroke-width="1.35"/>
<circle cx="930.0" cy="948.0" r="3.7" fill="none" stroke="#1c1c1c" stroke-width="1.35"/>
<circle cx="923.3" cy="936.7" r="3.7" fill="none" stroke="#1c1c1c" stroke-width="1.35"/>
<circle cx="924.5" cy="938.5" r="3.7" fill="none" stroke="#1c1c1c" stroke-width="1.35"/>
<circle cx="922.5" cy="935.0" r="3.7" fill="none" stroke="#1c1c1c" stroke-width="1.35"/>
<circle cx="890.0" cy="946.7" r="3.7" fill="none" stroke="#1c1c1c" stroke-width="1.35"/>
<circle cx="893.3" cy="946.7" r="3.7" fill="none" stroke="#1c1c1c" stroke-width="1.35"/>
<circle cx="891.5" cy="946.0" r="3.7" fill="none" stroke="#1c1c1c" stroke-width="1.35"/>
<circle cx="895.0" cy="947.5" r="3.7" fill="none" stroke="#1c1c1c" stroke-width="1.35"/>
<circle cx="879.3" cy="966.7" r="3.7" fill="none" stroke="#1c1c1c" stroke-width="1.35"/>
<circle cx="919.3" cy="956.7" r="3.7" fill="none" stroke="#1c1c1c" stroke-width="1.35"/>
<circle cx="956.7" cy="1009.3" r="3.7" fill="none" stroke="#1c1c1c" stroke-width="1.35"/>
<circle cx="975.7" cy="1035.7" r="3.7" fill="none" stroke="#1c1c1c" stroke-width="1.35"/>
<circle cx="979.3" cy="1048.3" r="3.7" fill="none" stroke="#1c1c1c" stroke-width="1.35"/>
<circle cx="1050.7" cy="1001.7" r="3.7" fill="none" stroke="#1c1c1c" stroke-width="1.35"/>
<circle cx="1051.7" cy="1001.7" r="3.7" fill="none" stroke="#1c1c1c" stroke-width="1.35"/>
<circle cx="716.7" cy="1004.0" r="3.7" fill="none" stroke="#1c1c1c" stroke-width="1.35"/>
<circle cx="793.3" cy="1011.7" r="3.7" fill="none" stroke="#1c1c1c" stroke-width="1.35"/>
<circle cx="795.0" cy="1011.7" r="3.7" fill="none" stroke="#1c1c1c" stroke-width="1.35"/>
<circle cx="801.7" cy="1013.3" r="3.7" fill="none" stroke="#1c1c1c" stroke-width="1.35"/>
<circle cx="812.7" cy="1021.0" r="3.7" fill="none" stroke="#1c1c1c" stroke-width="1.35"/>
<circle cx="795.7" cy="1031.0" r="3.7" fill="none" stroke="#1c1c1c" stroke-width="1.35"/>
<circle cx="793.3" cy="1035.0" r="3.7" fill="none" stroke="#1c1c1c" stroke-width="1.35"/>
<circle cx="792.3" cy="1038.3" r="3.7" fill="none" stroke="#1c1c1c" stroke-width="1.35"/>
<circle cx="791.0" cy="1041.0" r="3.7" fill="none" stroke="#1c1c1c" stroke-width="1.35"/>
<circle cx="799.0" cy="1048.3" r="3.7" fill="none" stroke="#1c1c1c" stroke-width="1.35"/>
<circle cx="793.3" cy="1054.3" r="3.7" fill="none" stroke="#1c1c1c" stroke-width="1.35"/>
<circle cx="920.5" cy="946.5" r="3.7" fill="none" stroke="#1c1c1c" stroke-width="1.35"/>
<path d="M956.0 645.2L960.3 652.8H951.7Z" fill="none" stroke="#0f4f8f" stroke-width="1.5" stroke-linejoin="miter"/>
<path d="M969.3 701.9L973.6 709.5H965.0Z" fill="none" stroke="#0f4f8f" stroke-width="1.5" stroke-linejoin="miter"/>
<path d="M1034.3 706.5L1038.6 714.1H1030.0Z" fill="none" stroke="#0f4f8f" stroke-width="1.5" stroke-linejoin="miter"/>
<path d="M987.3 725.5L991.6 733.1H983.0Z" fill="none" stroke="#0f4f8f" stroke-width="1.5" stroke-linejoin="miter"/>
<path d="M955.0 745.2L959.3 752.8H950.7Z" fill="none" stroke="#0f4f8f" stroke-width="1.5" stroke-linejoin="miter"/>
<path d="M961.0 757.2L965.3 764.8H956.7Z" fill="none" stroke="#0f4f8f" stroke-width="1.5" stroke-linejoin="miter"/>
<path d="M1007.7 643.5L1012.0 651.1H1003.4Z" fill="none" stroke="#0f4f8f" stroke-width="1.5" stroke-linejoin="miter"/>
<path d="M927.7 920.8L932.0 928.4H923.4Z" fill="none" stroke="#0f4f8f" stroke-width="1.5" stroke-linejoin="miter"/>
<path d="M896.0 929.2L900.3 936.8H891.7Z" fill="none" stroke="#0f4f8f" stroke-width="1.5" stroke-linejoin="miter"/>
<path d="M880.0 936.5L884.3 944.1H875.7Z" fill="none" stroke="#0f4f8f" stroke-width="1.5" stroke-linejoin="miter"/>
<path d="M867.7 962.9L872.0 970.5H863.4Z" fill="none" stroke="#0f4f8f" stroke-width="1.5" stroke-linejoin="miter"/>
<path d="M812.3 994.5L816.6 1002.1H808.0Z" fill="none" stroke="#0f4f8f" stroke-width="1.5" stroke-linejoin="miter"/>
<path d="M808.3 1007.9L812.6 1015.5H804.0Z" fill="none" stroke="#0f4f8f" stroke-width="1.5" stroke-linejoin="miter"/>
<path d="M809.3 1017.9L813.6 1025.5H805.0Z" fill="none" stroke="#0f4f8f" stroke-width="1.5" stroke-linejoin="miter"/>
<path d="M913.7 984.5L918.0 992.1H909.4Z" fill="none" stroke="#0f4f8f" stroke-width="1.5" stroke-linejoin="miter"/>
<path d="M930.0 929.5L934.3 937.1H925.7Z" fill="none" stroke="#0f4f8f" stroke-width="1.5" stroke-linejoin="miter"/>
<path d="M926.7 932.9L931.0 940.5H922.4Z" fill="none" stroke="#0f4f8f" stroke-width="1.5" stroke-linejoin="miter"/>
<path d="M925.0 934.5L929.3 942.1H920.7Z" fill="none" stroke="#0f4f8f" stroke-width="1.5" stroke-linejoin="miter"/>
<path d="M885.0 947.9L889.3 955.5H880.7Z" fill="none" stroke="#0f4f8f" stroke-width="1.5" stroke-linejoin="miter"/>
<path d="M886.7 948.9L891.0 956.5H882.4Z" fill="none" stroke="#0f4f8f" stroke-width="1.5" stroke-linejoin="miter"/>
<path d="M888.3 947.9L892.6 955.5H884.0Z" fill="none" stroke="#0f4f8f" stroke-width="1.5" stroke-linejoin="miter"/>
<path d="M884.0 945.2L888.3 952.8H879.7Z" fill="none" stroke="#0f4f8f" stroke-width="1.5" stroke-linejoin="miter"/>
<path d="M887.0 944.2L891.3 951.8H882.7Z" fill="none" stroke="#0f4f8f" stroke-width="1.5" stroke-linejoin="miter"/>
<rect x="1004.9" y="668.9" width="6.8" height="6.8" fill="none" stroke="#a30d14" stroke-width="1.7"/>
<rect x="997.6" y="729.9" width="6.8" height="6.8" fill="none" stroke="#a30d14" stroke-width="1.7"/>
<rect x="997.6" y="741.6" width="6.8" height="6.8" fill="none" stroke="#a30d14" stroke-width="1.7"/>
<rect x="868.9" y="864.6" width="6.8" height="6.8" fill="none" stroke="#a30d14" stroke-width="1.7"/>
<rect x="938.9" y="884.3" width="6.8" height="6.8" fill="none" stroke="#a30d14" stroke-width="1.7"/>
<rect x="938.2" y="883.6" width="6.8" height="6.8" fill="none" stroke="#a30d14" stroke-width="1.7"/>
<rect x="981.6" y="900.6" width="6.8" height="6.8" fill="none" stroke="#a30d14" stroke-width="1.7"/>
<rect x="935.9" y="928.3" width="6.8" height="6.8" fill="none" stroke="#a30d14" stroke-width="1.7"/>
<rect x="801.6" y="956.6" width="6.8" height="6.8" fill="none" stroke="#a30d14" stroke-width="1.7"/>
<rect x="919.3" y="943.3" width="6.8" height="6.8" fill="none" stroke="#a30d14" stroke-width="1.7"/>
<rect x="920.9" y="951.6" width="6.8" height="6.8" fill="none" stroke="#a30d14" stroke-width="1.7"/>
<rect x="910.3" y="980.6" width="6.8" height="6.8" fill="none" stroke="#a30d14" stroke-width="1.7"/>
</g>
</g>
<text x="193" y="889" font-size="43px" fill="#111">Study sites</text>
<circle cx="218.8" cy="942" r="18" fill="none" stroke="#3c3c3c" stroke-width="3"/>
<path d="M218.8 977.5L238.8 1013H198.8Z" fill="none" stroke="#1a5a96" stroke-width="3.6" stroke-linejoin="miter"/>
<rect x="200.3" y="1034.3" width="37" height="36.5" fill="none" stroke="#a31515" stroke-width="3.6"/>
<g font-size="32.5px" fill="#111">
<text x="255.5" y="952">Wood Formation/FluxSat</text>
<text x="255.5" y="1006">Non structural carbohydrates</text>
<text x="255.5" y="1061">FluxNet</text>
</g>
<text x="1.5" y="63.5" font-size="87px" fill="#000">a</text>
</g>
<g id="plotb">
<g>
<polygon fill="#C1E1DD" stroke="#C1E1DD" stroke-width="0.5" points="261.7,2040.0 273.0,2030.0 313.0,2018.0 363.0,2003.0 397.0,1987.0 430.0,1963.0 463.0,1933.0 497.0,1898.0 521.7,1872.7 518.2,1893.0 511.5,1920.0 503.5,1950.0 494.5,1980.0 486.5,2003.0 476.0,2023.0 443.0,2040.0 427.0,2049.0 410.0,2056.0 385.0,2059.3 363.0,2058.3 330.0,2056.7 297.0,2052.3 273.0,2046.7 263.0,2042.7"/>
<polygon fill="#A5C790" stroke="#A5C790" stroke-width="0.5" points="477.0,2024.0 487.0,2003.0 495.0,1980.0 504.0,1950.0 512.0,1920.0 519.0,1893.0 524.0,1873.0 530.0,1863.0 583.0,1807.0 623.0,1767.0 657.0,1737.0 683.0,1717.0 715.5,1697.0 712.5,1706.7 707.1,1722.0 702.5,1735.6 698.5,1749.0 694.4,1764.4 692.5,1780.0 691.0,1795.6 689.5,1811.0 687.5,1827.0 685.0,1860.0 683.0,1893.0 680.0,1913.0 672.0,1940.0 662.0,1960.0 650.0,1975.0 642.0,1982.0 637.0,1983.0 600.0,1992.0 567.0,2000.0 517.0,2012.0"/>
<polygon fill="#97B669" stroke="#97B669" stroke-width="0.5" points="702.0,1748.0 711.0,1739.5 720.0,1732.0 740.0,1714.5 784.4,1691.6 828.9,1673.8 873.3,1659.4 917.8,1648.2 962.2,1639.3 1006.7,1632.6 1040.0,1629.2 1067.7,1626.0 1065.0,1670.0 1063.0,1720.0 1063.0,1770.0 1064.0,1820.0 1063.3,1831.0 1033.0,1839.0 1000.0,1849.0 967.0,1859.0 933.0,1869.0 900.0,1878.5 883.0,1883.0 850.0,1897.0 817.0,1912.0 783.0,1928.0 750.0,1945.0 717.0,1960.0 683.0,1972.0 642.0,1982.0 650.0,1975.0 662.0,1960.0 672.0,1940.0 680.0,1913.0 683.0,1893.0 685.0,1860.0 687.5,1827.0 689.5,1811.0 691.0,1795.6 692.5,1780.0 694.4,1764.4 697.8,1749.0"/>
<polygon fill="#75A95E" stroke="#75A95E" stroke-width="0.5" points="723.5,1688.5 783.0,1655.0 840.0,1620.0 900.0,1581.0 933.0,1559.0 967.0,1538.0 1000.0,1517.0 1033.0,1493.0 1067.0,1467.0 1097.0,1434.0 1092.0,1467.0 1083.0,1510.0 1075.0,1553.0 1072.0,1587.0 1068.0,1625.0 1040.0,1629.2 1006.7,1632.6 962.2,1639.3 917.8,1648.2 873.3,1659.4 828.9,1673.8 784.4,1691.6 740.0,1714.5 720.0,1732.0 711.0,1739.5 703.0,1746.0 707.8,1729.0 712.9,1713.0 717.5,1700.0"/>
<polygon fill="#317A22" stroke="#317A22" stroke-width="0.5" points="1104.0,1426.0 1117.0,1407.0 1133.0,1380.0 1150.0,1343.0 1167.0,1300.0 1177.0,1273.0 1187.0,1253.0 1195.0,1242.0 1203.0,1238.0 1213.0,1241.0 1223.0,1250.0 1233.0,1270.0 1243.0,1300.0 1253.0,1340.0 1263.0,1397.0 1273.0,1467.0 1282.0,1541.0 1260.0,1562.0 1233.0,1578.0 1200.0,1593.0 1150.0,1610.0 1100.0,1620.0 1069.0,1625.0 1072.0,1587.0 1075.0,1553.0 1083.0,1510.0 1092.0,1467.0 1100.0,1440.0"/>
<polygon fill="#A09700" stroke="#A09700" stroke-width="0.5" points="1069.0,1626.0 1100.0,1620.0 1150.0,1610.0 1200.0,1593.0 1233.0,1578.0 1260.0,1562.0 1282.0,1543.0 1290.0,1620.0 1297.0,1720.0 1303.0,1803.0 1309.3,1881.7 1290.0,1895.0 1267.0,1907.0 1233.0,1920.0 1200.0,1930.0 1150.0,1943.0 1100.0,1953.0 1042.0,1963.0 1048.0,1947.0 1055.0,1923.0 1060.0,1897.0 1063.0,1863.0 1065.0,1830.0 1064.0,1820.0 1063.0,1770.0 1063.0,1720.0 1065.0,1670.0"/>
<polygon fill="#DCBB50" stroke="#DCBB50" stroke-width="0.5" points="1042.0,1964.0 1100.0,1953.0 1150.0,1943.0 1200.0,1930.0 1233.0,1920.0 1267.0,1907.0 1290.0,1895.0 1309.3,1882.0 1316.7,2062.7 956.7,2062.7 977.0,2043.0 1000.0,2020.0 1017.0,1998.0 1030.0,1978.0 1038.0,1966.0"/>
<polygon fill="#FCD57A" stroke="#FCD57A" stroke-width="0.5" points="411.7,2059.5 450.0,2050.0 517.0,2037.0 583.0,2025.0 650.0,2015.0 717.0,2006.0 783.0,2000.0 850.0,1993.0 900.0,1986.0 933.0,1980.0 967.0,1976.0 1000.0,1972.0 1036.0,1968.0 1030.0,1978.0 1017.0,1998.0 1000.0,2020.0 977.0,2043.0 956.7,2062.7 411.7,2062.7"/>
<polygon fill="#D16E3F" stroke="#D16E3F" stroke-width="0.5" points="427.0,2050.0 477.0,2024.0 517.0,2012.0 567.0,2000.0 600.0,1992.0 642.0,1982.0 683.0,1972.0 717.0,1960.0 750.0,1945.0 783.0,1928.0 817.0,1912.0 850.0,1897.0 883.0,1883.0 900.0,1878.5 933.0,1869.0 967.0,1859.0 1000.0,1849.0 1033.0,1839.0 1063.0,1831.0 1063.0,1863.0 1060.0,1897.0 1055.0,1923.0 1048.0,1947.0 1042.0,1963.0 1036.0,1968.0 1000.0,1972.0 967.0,1976.0 933.0,1980.0 900.0,1985.0 850.0,1992.0 783.0,1999.0 717.0,2005.0 650.0,2014.0 583.0,2024.0 517.0,2036.0 450.0,2048.0"/>
</g>
<mask id="um" maskUnits="userSpaceOnUse" x="0" y="1100" width="1350" height="1072"><polygon points="261.7,2040.0 273.0,2030.0 313.0,2018.0 363.0,2003.0 397.0,1987.0 430.0,1963.0 463.0,1933.0 497.0,1898.0 521.7,1872.7 530.0,1863.0 583.0,1807.0 623.0,1767.0 657.0,1737.0 683.0,1717.0 715.5,1697.0 723.5,1688.5 783.0,1655.0 840.0,1620.0 900.0,1581.0 933.0,1559.0 967.0,1538.0 1000.0,1517.0 1033.0,1493.0 1067.0,1467.0 1097.0,1434.0 1104.0,1426.0 1117.0,1407.0 1133.0,1380.0 1150.0,1343.0 1167.0,1300.0 1177.0,1273.0 1187.0,1253.0 1195.0,1242.0 1203.0,1238.0 1213.0,1241.0 1223.0,1250.0 1233.0,1270.0 1243.0,1300.0 1253.0,1340.0 1263.0,1397.0 1273.0,1467.0 1282.0,1541.0 1290.0,1620.0 1297.0,1720.0 1303.0,1803.0 1309.3,1881.7 1316.7,2062.7 411.7,2062.7 411.7,2059.5 410.0,2056.0 385.0,2059.3 363.0,2058.3 330.0,2056.7 297.0,2052.3 273.0,2046.7 263.0,2042.7" fill="#fff" stroke="#000" stroke-width="4.6" stroke-linejoin="round"/></mask>
<g mask="url(#um)" fill="none" stroke="#fff" stroke-width="3" stroke-linejoin="round">
<polygon points="261.7,2040.0 273.0,2030.0 313.0,2018.0 363.0,2003.0 397.0,1987.0 430.0,1963.0 463.0,1933.0 497.0,1898.0 521.7,1872.7 518.2,1893.0 511.5,1920.0 503.5,1950.0 494.5,1980.0 486.5,2003.0 476.0,2023.0 443.0,2040.0 427.0,2049.0 410.0,2056.0 385.0,2059.3 363.0,2058.3 330.0,2056.7 297.0,2052.3 273.0,2046.7 263.0,2042.7"/>
<polygon points="477.0,2024.0 487.0,2003.0 495.0,1980.0 504.0,1950.0 512.0,1920.0 519.0,1893.0 524.0,1873.0 530.0,1863.0 583.0,1807.0 623.0,1767.0 657.0,1737.0 683.0,1717.0 715.5,1697.0 712.5,1706.7 707.1,1722.0 702.5,1735.6 698.5,1749.0 694.4,1764.4 692.5,1780.0 691.0,1795.6 689.5,1811.0 687.5,1827.0 685.0,1860.0 683.0,1893.0 680.0,1913.0 672.0,1940.0 662.0,1960.0 650.0,1975.0 642.0,1982.0 637.0,1983.0 600.0,1992.0 567.0,2000.0 517.0,2012.0"/>
<polygon points="702.0,1748.0 711.0,1739.5 720.0,1732.0 740.0,1714.5 784.4,1691.6 828.9,1673.8 873.3,1659.4 917.8,1648.2 962.2,1639.3 1006.7,1632.6 1040.0,1629.2 1067.7,1626.0 1065.0,1670.0 1063.0,1720.0 1063.0,1770.0 1064.0,1820.0 1063.3,1831.0 1033.0,1839.0 1000.0,1849.0 967.0,1859.0 933.0,1869.0 900.0,1878.5 883.0,1883.0 850.0,1897.0 817.0,1912.0 783.0,1928.0 750.0,1945.0 717.0,1960.0 683.0,1972.0 642.0,1982.0 650.0,1975.0 662.0,1960.0 672.0,1940.0 680.0,1913.0 683.0,1893.0 685.0,1860.0 687.5,1827.0 689.5,1811.0 691.0,1795.6 692.5,1780.0 694.4,1764.4 697.8,1749.0"/>
<polygon points="723.5,1688.5 783.0,1655.0 840.0,1620.0 900.0,1581.0 933.0,1559.0 967.0,1538.0 1000.0,1517.0 1033.0,1493.0 1067.0,1467.0 1097.0,1434.0 1092.0,1467.0 1083.0,1510.0 1075.0,1553.0 1072.0,1587.0 1068.0,1625.0 1040.0,1629.2 1006.7,1632.6 962.2,1639.3 917.8,1648.2 873.3,1659.4 828.9,1673.8 784.4,1691.6 740.0,1714.5 720.0,1732.0 711.0,1739.5 703.0,1746.0 707.8,1729.0 712.9,1713.0 717.5,1700.0"/>
<polygon points="1104.0,1426.0 1117.0,1407.0 1133.0,1380.0 1150.0,1343.0 1167.0,1300.0 1177.0,1273.0 1187.0,1253.0 1195.0,1242.0 1203.0,1238.0 1213.0,1241.0 1223.0,1250.0 1233.0,1270.0 1243.0,1300.0 1253.0,1340.0 1263.0,1397.0 1273.0,1467.0 1282.0,1541.0 1260.0,1562.0 1233.0,1578.0 1200.0,1593.0 1150.0,1610.0 1100.0,1620.0 1069.0,1625.0 1072.0,1587.0 1075.0,1553.0 1083.0,1510.0 1092.0,1467.0 1100.0,1440.0"/>
<polygon points="1069.0,1626.0 1100.0,1620.0 1150.0,1610.0 1200.0,1593.0 1233.0,1578.0 1260.0,1562.0 1282.0,1543.0 1290.0,1620.0 1297.0,1720.0 1303.0,1803.0 1309.3,1881.7 1290.0,1895.0 1267.0,1907.0 1233.0,1920.0 1200.0,1930.0 1150.0,1943.0 1100.0,1953.0 1042.0,1963.0 1048.0,1947.0 1055.0,1923.0 1060.0,1897.0 1063.0,1863.0 1065.0,1830.0 1064.0,1820.0 1063.0,1770.0 1063.0,1720.0 1065.0,1670.0"/>
<polygon points="1042.0,1964.0 1100.0,1953.0 1150.0,1943.0 1200.0,1930.0 1233.0,1920.0 1267.0,1907.0 1290.0,1895.0 1309.3,1882.0 1316.7,2062.7 956.7,2062.7 977.0,2043.0 1000.0,2020.0 1017.0,1998.0 1030.0,1978.0 1038.0,1966.0"/>
<polygon points="411.7,2059.5 450.0,2050.0 517.0,2037.0 583.0,2025.0 650.0,2015.0 717.0,2006.0 783.0,2000.0 850.0,1993.0 900.0,1986.0 933.0,1980.0 967.0,1976.0 1000.0,1972.0 1036.0,1968.0 1030.0,1978.0 1017.0,1998.0 1000.0,2020.0 977.0,2043.0 956.7,2062.7 411.7,2062.7"/>
<polygon points="427.0,2050.0 477.0,2024.0 517.0,2012.0 567.0,2000.0 600.0,1992.0 642.0,1982.0 683.0,1972.0 717.0,1960.0 750.0,1945.0 783.0,1928.0 817.0,1912.0 850.0,1897.0 883.0,1883.0 900.0,1878.5 933.0,1869.0 967.0,1859.0 1000.0,1849.0 1033.0,1839.0 1063.0,1831.0 1063.0,1863.0 1060.0,1897.0 1055.0,1923.0 1048.0,1947.0 1042.0,1963.0 1036.0,1968.0 1000.0,1972.0 967.0,1976.0 933.0,1980.0 900.0,1985.0 850.0,1992.0 783.0,1999.0 717.0,2005.0 650.0,2014.0 583.0,2024.0 517.0,2036.0 450.0,2048.0"/>
</g>
<g stroke="#111" stroke-width="2" fill="none">
<path d="M134 1113V2084"/>
<path d="M133 2083.3H1343.5"/>
</g>
<g stroke="#222" stroke-width="1.5" fill="none">
<path d="M134 2064.5h-9.5M134 2027.2h-4.5M134 1989.9h-4.5M134 1952.6h-4.5M134 1915.3h-4.5M134 1878.0h-9.5M134 1840.7h-4.5M134 1803.4h-4.5M134 1766.1h-4.5M134 1728.8h-4.5M134 1691.5h-9.5M134 1654.2h-4.5M134 1616.9h-4.5M134 1579.6h-4.5M134 1542.3h-4.5M134 1505.0h-9.5M134 1467.7h-4.5M134 1430.4h-4.5M134 1393.1h-4.5M134 1355.8h-4.5M134 1318.5h-9.5M134 1281.2h-4.5M134 1243.9h-4.5M134 1206.6h-4.5M134 1169.3h-4.5M134 1132.0h-9.5M158.1 2083.3v10M204.5 2083.3v5M250.9 2083.3v5M297.4 2083.3v5M343.8 2083.3v5M390.2 2083.3v10M436.7 2083.3v5M483.1 2083.3v5M529.5 2083.3v5M576.0 2083.3v5M622.4 2083.3v10M668.8 2083.3v5M715.3 2083.3v5M761.7 2083.3v5M808.1 2083.3v5M854.6 2083.3v10M901.0 2083.3v5M947.4 2083.3v5M993.9 2083.3v5M1040.3 2083.3v5M1086.7 2083.3v10M1133.2 2083.3v5M1179.6 2083.3v5M1226.0 2083.3v5M1272.4 2083.3v5M1318.9 2083.3v10"/>
</g>
<g fill="#4d4d4d" font-size="31.5px">
<text x="119" y="2074.8" text-anchor="end">0</text>
<text x="119" y="1888.3" text-anchor="end">100</text>
<text x="119" y="1701.8" text-anchor="end">200</text>
<text x="119" y="1515.3" text-anchor="end">300</text>
<text x="119" y="1328.8" text-anchor="end">400</text>
<text x="119" y="1142.3" text-anchor="end">500</text>
<text x="158.1" y="2120" text-anchor="middle">-20</text>
<text x="390.2" y="2120" text-anchor="middle">-10</text>
<text x="622.4" y="2120" text-anchor="middle">0</text>
<text x="854.6" y="2120" text-anchor="middle">10</text>
<text x="1086.7" y="2120" text-anchor="middle">20</text>
<text x="1318.9" y="2120" text-anchor="middle">30</text>
</g>
<text x="496" y="2157.5" font-size="41.5px" fill="#111" textLength="485" lengthAdjust="spacingAndGlyphs">Mean annual temperature(°C)</text>
<text transform="translate(57,1810) rotate(-90)" font-size="41.5px" fill="#111" textLength="426" lengthAdjust="spacingAndGlyphs">Annual precipitation (cm)</text>
<text x="197" y="1165" font-size="40.5px" fill="#111">Whittaker biomes</text>
<rect x="198.5" y="1195.5" width="23" height="22" fill="#C1E1DD"/>
<text x="248" y="1217.0" font-size="32.5px" fill="#111">Tundra</text>
<rect x="198.5" y="1227.8" width="23" height="22" fill="#A5C790"/>
<text x="248" y="1249.2" font-size="32.5px" fill="#111">Boreal forest</text>
<rect x="198.5" y="1260.0" width="23" height="22" fill="#97B669"/>
<text x="248" y="1281.5" font-size="32.5px" fill="#111">Temperate seasonal forest</text>
<rect x="198.5" y="1292.2" width="23" height="22" fill="#75A95E"/>
<text x="248" y="1313.8" font-size="32.5px" fill="#111">Temperate rain forest</text>
<rect x="198.5" y="1324.5" width="23" height="22" fill="#317A22"/>
<text x="248" y="1346.0" font-size="32.5px" fill="#111">Tropical rain forest</text>
<rect x="198.5" y="1356.8" width="23" height="22" fill="#A09700"/>
<text x="248" y="1378.2" font-size="32.5px" fill="#111">Tropical seasonal forest/savanna</text>
<rect x="198.5" y="1389.0" width="23" height="22" fill="#DCBB50"/>
<text x="248" y="1410.5" font-size="32.5px" fill="#111">Subtropical desert</text>
<rect x="198.5" y="1421.2" width="23" height="22" fill="#FCD57A"/>
<text x="248" y="1442.8" font-size="32.5px" fill="#111">Temperate grassland/desert</text>
<rect x="198.5" y="1453.5" width="23" height="22" fill="#D16E3F"/>
<text x="248" y="1475.0" font-size="32.5px" fill="#111">Woodland/shrubland</text>
<text x="1" y="1129.6" font-size="86px" fill="#000">b</text>
<g id="pb">
<circle cx="630.4" cy="1815.6" r="7.1" fill="none" stroke="#0a0a0a" stroke-width="3.4"/>
<circle cx="633.3" cy="1841.1" r="7.1" fill="none" stroke="#0a0a0a" stroke-width="3.4"/>
<circle cx="624.0" cy="1850.7" r="7.1" fill="none" stroke="#0a0a0a" stroke-width="3.4"/>
<circle cx="614.4" cy="1851.1" r="7.1" fill="none" stroke="#0a0a0a" stroke-width="3.4"/>
<circle cx="653.3" cy="1862.7" r="7.1" fill="none" stroke="#0a0a0a" stroke-width="3.4"/>
<circle cx="678.2" cy="1863.3" r="7.1" fill="none" stroke="#0a0a0a" stroke-width="3.4"/>
<circle cx="681.8" cy="1866.7" r="7.1" fill="none" stroke="#0a0a0a" stroke-width="3.4"/>
<circle cx="553.8" cy="1892.2" r="7.1" fill="none" stroke="#0a0a0a" stroke-width="3.4"/>
<circle cx="604.4" cy="1898.9" r="7.1" fill="none" stroke="#0a0a0a" stroke-width="3.4"/>
<circle cx="640.0" cy="1901.1" r="7.1" fill="none" stroke="#0a0a0a" stroke-width="3.4"/>
<circle cx="704.4" cy="1880.0" r="7.1" fill="none" stroke="#0a0a0a" stroke-width="3.4"/>
<circle cx="725.6" cy="1890.4" r="7.1" fill="none" stroke="#0a0a0a" stroke-width="3.4"/>
<circle cx="713.3" cy="1817.8" r="7.1" fill="none" stroke="#0a0a0a" stroke-width="3.4"/>
<circle cx="751.1" cy="1817.8" r="7.1" fill="none" stroke="#0a0a0a" stroke-width="3.4"/>
<circle cx="751.1" cy="1855.6" r="7.1" fill="none" stroke="#0a0a0a" stroke-width="3.4"/>
<circle cx="781.1" cy="1820.0" r="7.1" fill="none" stroke="#0a0a0a" stroke-width="3.4"/>
<circle cx="797.8" cy="1820.0" r="7.1" fill="none" stroke="#0a0a0a" stroke-width="3.4"/>
<circle cx="788.4" cy="1852.2" r="7.1" fill="none" stroke="#0a0a0a" stroke-width="3.4"/>
<circle cx="753.3" cy="1921.6" r="7.1" fill="none" stroke="#0a0a0a" stroke-width="3.4"/>
<circle cx="748.9" cy="1936.7" r="7.1" fill="none" stroke="#0a0a0a" stroke-width="3.4"/>
<circle cx="770.0" cy="1934.0" r="7.1" fill="none" stroke="#0a0a0a" stroke-width="3.4"/>
<circle cx="711.1" cy="1931.1" r="7.1" fill="none" stroke="#0a0a0a" stroke-width="3.4"/>
<circle cx="723.3" cy="1948.2" r="7.1" fill="none" stroke="#0a0a0a" stroke-width="3.4"/>
<circle cx="801.1" cy="1939.3" r="7.1" fill="none" stroke="#0a0a0a" stroke-width="3.4"/>
<circle cx="697.8" cy="1785.6" r="7.1" fill="none" stroke="#0a0a0a" stroke-width="3.4"/>
<circle cx="704.4" cy="1787.8" r="7.1" fill="none" stroke="#0a0a0a" stroke-width="3.4"/>
<circle cx="708.9" cy="1786.7" r="7.1" fill="none" stroke="#0a0a0a" stroke-width="3.4"/>
<circle cx="728.9" cy="1784.4" r="7.1" fill="none" stroke="#0a0a0a" stroke-width="3.4"/>
<circle cx="794.4" cy="1788.9" r="7.1" fill="none" stroke="#0a0a0a" stroke-width="3.4"/>
<circle cx="801.1" cy="1789.3" r="7.1" fill="none" stroke="#0a0a0a" stroke-width="3.4"/>
<circle cx="818.9" cy="1893.3" r="7.1" fill="none" stroke="#0a0a0a" stroke-width="3.4"/>
<circle cx="817.8" cy="1903.3" r="7.1" fill="none" stroke="#0a0a0a" stroke-width="3.4"/>
<circle cx="820.0" cy="1808.9" r="7.1" fill="none" stroke="#0a0a0a" stroke-width="3.4"/>
<circle cx="825.6" cy="1808.9" r="7.1" fill="none" stroke="#0a0a0a" stroke-width="3.4"/>
<circle cx="853.3" cy="1811.8" r="7.1" fill="none" stroke="#0a0a0a" stroke-width="3.4"/>
<circle cx="828.4" cy="1863.3" r="7.1" fill="none" stroke="#0a0a0a" stroke-width="3.4"/>
<circle cx="871.1" cy="1855.6" r="7.1" fill="none" stroke="#0a0a0a" stroke-width="3.4"/>
<circle cx="876.7" cy="1853.3" r="7.1" fill="none" stroke="#0a0a0a" stroke-width="3.4"/>
<circle cx="860.0" cy="1901.1" r="7.1" fill="none" stroke="#0a0a0a" stroke-width="3.4"/>
<circle cx="860.4" cy="1906.7" r="7.1" fill="none" stroke="#0a0a0a" stroke-width="3.4"/>
<circle cx="861.1" cy="1911.1" r="7.1" fill="none" stroke="#0a0a0a" stroke-width="3.4"/>
<circle cx="876.7" cy="1933.3" r="7.1" fill="none" stroke="#0a0a0a" stroke-width="3.4"/>
<circle cx="981.1" cy="1903.3" r="7.1" fill="none" stroke="#0a0a0a" stroke-width="3.4"/>
<circle cx="984.0" cy="1906.7" r="7.1" fill="none" stroke="#0a0a0a" stroke-width="3.4"/>
<circle cx="937.1" cy="1941.8" r="7.1" fill="none" stroke="#0a0a0a" stroke-width="3.4"/>
<circle cx="1006.7" cy="1941.6" r="7.1" fill="none" stroke="#0a0a0a" stroke-width="3.4"/>
<circle cx="978.9" cy="1961.8" r="7.1" fill="none" stroke="#0a0a0a" stroke-width="3.4"/>
<circle cx="1025.6" cy="1958.4" r="7.1" fill="none" stroke="#0a0a0a" stroke-width="3.4"/>
<circle cx="955.6" cy="1972.2" r="7.1" fill="none" stroke="#0a0a0a" stroke-width="3.4"/>
<circle cx="970.0" cy="1978.4" r="7.1" fill="none" stroke="#0a0a0a" stroke-width="3.4"/>
<circle cx="982.7" cy="1989.6" r="7.1" fill="none" stroke="#0a0a0a" stroke-width="3.4"/>
<circle cx="992.2" cy="1986.7" r="7.1" fill="none" stroke="#0a0a0a" stroke-width="3.4"/>
<circle cx="998.9" cy="1988.2" r="7.1" fill="none" stroke="#0a0a0a" stroke-width="3.4"/>
<circle cx="996.7" cy="2004.4" r="7.1" fill="none" stroke="#0a0a0a" stroke-width="3.4"/>
<circle cx="1057.8" cy="2010.0" r="7.1" fill="none" stroke="#0a0a0a" stroke-width="3.4"/>
<circle cx="742.2" cy="1646.7" r="7.1" fill="none" stroke="#0a0a0a" stroke-width="3.4"/>
<circle cx="727.8" cy="1669.6" r="7.1" fill="none" stroke="#0a0a0a" stroke-width="3.4"/>
<circle cx="791.1" cy="1654.4" r="7.1" fill="none" stroke="#0a0a0a" stroke-width="3.4"/>
<circle cx="786.2" cy="1667.1" r="7.1" fill="none" stroke="#0a0a0a" stroke-width="3.4"/>
<circle cx="648.9" cy="1709.3" r="7.1" fill="none" stroke="#0a0a0a" stroke-width="3.4"/>
<circle cx="697.8" cy="1728.4" r="7.1" fill="none" stroke="#0a0a0a" stroke-width="3.4"/>
<circle cx="723.3" cy="1733.8" r="7.1" fill="none" stroke="#0a0a0a" stroke-width="3.4"/>
<circle cx="727.8" cy="1741.8" r="7.1" fill="none" stroke="#0a0a0a" stroke-width="3.4"/>
<circle cx="730.0" cy="1776.7" r="7.1" fill="none" stroke="#0a0a0a" stroke-width="3.4"/>
<circle cx="1032.3" cy="2028.3" r="7.1" fill="none" stroke="#0a0a0a" stroke-width="3.4"/>
<circle cx="442.3" cy="1954.0" r="7.1" fill="none" stroke="#0a0a0a" stroke-width="3.4"/>
<circle cx="802.1" cy="1938.2" r="7.1" fill="none" stroke="#0a0a0a" stroke-width="3.4"/>
<circle cx="981.1" cy="1903.3" r="7.1" fill="none" stroke="#0a0a0a" stroke-width="3.4"/>
<circle cx="984.0" cy="1906.7" r="7.1" fill="none" stroke="#0a0a0a" stroke-width="3.4"/>
<path d="M610.4 1817.9L619.7 1835.4H601.2Z" fill="none" stroke="#1c3a9c" stroke-width="3.2" stroke-linejoin="miter"/>
<path d="M563.8 1892.5L573.0 1910.0H554.5Z" fill="none" stroke="#1c3a9c" stroke-width="3.2" stroke-linejoin="miter"/>
<path d="M587.3 1908.1L596.6 1925.6H578.1Z" fill="none" stroke="#1c3a9c" stroke-width="3.2" stroke-linejoin="miter"/>
<path d="M617.8 1909.0L627.0 1926.5H608.5Z" fill="none" stroke="#1c3a9c" stroke-width="3.2" stroke-linejoin="miter"/>
<path d="M694.4 1791.9L703.7 1809.4H685.2Z" fill="none" stroke="#1c3a9c" stroke-width="3.2" stroke-linejoin="miter"/>
<path d="M722.2 1802.3L731.5 1819.8H713.0Z" fill="none" stroke="#1c3a9c" stroke-width="3.2" stroke-linejoin="miter"/>
<path d="M773.3 1835.2L782.6 1852.7H764.1Z" fill="none" stroke="#1c3a9c" stroke-width="3.2" stroke-linejoin="miter"/>
<path d="M794.4 1824.1L803.7 1841.6H785.2Z" fill="none" stroke="#1c3a9c" stroke-width="3.2" stroke-linejoin="miter"/>
<path d="M802.2 1817.4L811.5 1834.9H793.0Z" fill="none" stroke="#1c3a9c" stroke-width="3.2" stroke-linejoin="miter"/>
<path d="M681.1 1856.3L690.4 1873.8H671.9Z" fill="none" stroke="#1c3a9c" stroke-width="3.2" stroke-linejoin="miter"/>
<path d="M692.2 1884.5L701.5 1902.0H683.0Z" fill="none" stroke="#1c3a9c" stroke-width="3.2" stroke-linejoin="miter"/>
<path d="M699.6 1908.1L708.8 1925.6H690.3Z" fill="none" stroke="#1c3a9c" stroke-width="3.2" stroke-linejoin="miter"/>
<path d="M695.6 1915.2L704.8 1932.7H686.3Z" fill="none" stroke="#1c3a9c" stroke-width="3.2" stroke-linejoin="miter"/>
<path d="M697.8 1924.1L707.0 1941.6H688.5Z" fill="none" stroke="#1c3a9c" stroke-width="3.2" stroke-linejoin="miter"/>
<path d="M698.9 1933.0L708.1 1950.5H689.6Z" fill="none" stroke="#1c3a9c" stroke-width="3.2" stroke-linejoin="miter"/>
<path d="M733.3 1903.0L742.6 1920.5H724.1Z" fill="none" stroke="#1c3a9c" stroke-width="3.2" stroke-linejoin="miter"/>
<path d="M735.6 1913.0L744.8 1930.5H726.3Z" fill="none" stroke="#1c3a9c" stroke-width="3.2" stroke-linejoin="miter"/>
<path d="M784.4 1906.3L793.7 1923.8H775.2Z" fill="none" stroke="#1c3a9c" stroke-width="3.2" stroke-linejoin="miter"/>
<path d="M728.9 1939.0L738.1 1956.5H719.6Z" fill="none" stroke="#1c3a9c" stroke-width="3.2" stroke-linejoin="miter"/>
<path d="M764.4 1940.8L773.7 1958.2H755.2Z" fill="none" stroke="#1c3a9c" stroke-width="3.2" stroke-linejoin="miter"/>
<path d="M803.3 2004.1L812.6 2021.6H794.1Z" fill="none" stroke="#1c3a9c" stroke-width="3.2" stroke-linejoin="miter"/>
<path d="M887.8 1773.0L897.0 1790.5H878.5Z" fill="none" stroke="#1c3a9c" stroke-width="3.2" stroke-linejoin="miter"/>
<path d="M866.2 1793.0L875.5 1810.5H857.0Z" fill="none" stroke="#1c3a9c" stroke-width="3.2" stroke-linejoin="miter"/>
<path d="M871.1 1801.9L880.4 1819.4H861.9Z" fill="none" stroke="#1c3a9c" stroke-width="3.2" stroke-linejoin="miter"/>
<path d="M852.9 1820.1L862.1 1837.6H843.6Z" fill="none" stroke="#1c3a9c" stroke-width="3.2" stroke-linejoin="miter"/>
<path d="M831.6 1866.3L840.8 1883.8H822.3Z" fill="none" stroke="#1c3a9c" stroke-width="3.2" stroke-linejoin="miter"/>
<path d="M947.8 1875.2L957.0 1892.7H938.5Z" fill="none" stroke="#1c3a9c" stroke-width="3.2" stroke-linejoin="miter"/>
<path d="M1012.7 1804.1L1021.9 1821.6H1003.4Z" fill="none" stroke="#1c3a9c" stroke-width="3.2" stroke-linejoin="miter"/>
<path d="M1012.2 1820.1L1021.5 1837.6H1003.0Z" fill="none" stroke="#1c3a9c" stroke-width="3.2" stroke-linejoin="miter"/>
<path d="M1031.1 1827.0L1040.4 1844.5H1021.9Z" fill="none" stroke="#1c3a9c" stroke-width="3.2" stroke-linejoin="miter"/>
<path d="M982.7 1830.8L991.9 1848.2H973.4Z" fill="none" stroke="#1c3a9c" stroke-width="3.2" stroke-linejoin="miter"/>
<path d="M1071.1 1809.6L1080.4 1827.1H1061.9Z" fill="none" stroke="#1c3a9c" stroke-width="3.2" stroke-linejoin="miter"/>
<path d="M1007.8 1951.2L1017.0 1968.7H998.5Z" fill="none" stroke="#1c3a9c" stroke-width="3.2" stroke-linejoin="miter"/>
<path d="M1010.0 1988.5L1019.2 2006.0H1000.8Z" fill="none" stroke="#1c3a9c" stroke-width="3.2" stroke-linejoin="miter"/>
<path d="M1040.0 1999.6L1049.2 2017.1H1030.8Z" fill="none" stroke="#1c3a9c" stroke-width="3.2" stroke-linejoin="miter"/>
<path d="M601.6 1640.1L610.8 1657.6H592.3Z" fill="none" stroke="#1c3a9c" stroke-width="3.2" stroke-linejoin="miter"/>
<path d="M792.2 1586.3L801.5 1603.8H783.0Z" fill="none" stroke="#1c3a9c" stroke-width="3.2" stroke-linejoin="miter"/>
<path d="M743.3 1625.6L752.6 1643.1H734.1Z" fill="none" stroke="#1c3a9c" stroke-width="3.2" stroke-linejoin="miter"/>
<path d="M841.1 1616.8L850.4 1634.2H831.9Z" fill="none" stroke="#1c3a9c" stroke-width="3.2" stroke-linejoin="miter"/>
<path d="M708.4 1678.1L717.7 1695.6H699.2Z" fill="none" stroke="#1c3a9c" stroke-width="3.2" stroke-linejoin="miter"/>
<path d="M702.2 1706.8L711.5 1724.2H693.0Z" fill="none" stroke="#1c3a9c" stroke-width="3.2" stroke-linejoin="miter"/>
<path d="M741.1 1760.8L750.4 1778.2H731.9Z" fill="none" stroke="#1c3a9c" stroke-width="3.2" stroke-linejoin="miter"/>
<path d="M757.3 1765.2L766.6 1782.7H748.1Z" fill="none" stroke="#1c3a9c" stroke-width="3.2" stroke-linejoin="miter"/>
<path d="M775.6 1762.3L784.8 1779.8H766.3Z" fill="none" stroke="#1c3a9c" stroke-width="3.2" stroke-linejoin="miter"/>
<path d="M735.6 1771.9L744.8 1789.4H726.3Z" fill="none" stroke="#1c3a9c" stroke-width="3.2" stroke-linejoin="miter"/>
<path d="M868.9 1739.2L878.1 1756.7H859.6Z" fill="none" stroke="#1c3a9c" stroke-width="3.2" stroke-linejoin="miter"/>
<path d="M1045.1 1756.3L1054.4 1773.8H1035.9Z" fill="none" stroke="#1c3a9c" stroke-width="3.2" stroke-linejoin="miter"/>
<path d="M836.0 1543.0L845.2 1560.5H826.8Z" fill="none" stroke="#1c3a9c" stroke-width="3.2" stroke-linejoin="miter"/>
<path d="M443.3 1997.4L452.6 2014.9H434.1Z" fill="none" stroke="#1c3a9c" stroke-width="3.2" stroke-linejoin="miter"/>
<path d="M1045.6 1760.0L1054.8 1777.5H1036.3Z" fill="none" stroke="#1c3a9c" stroke-width="3.2" stroke-linejoin="miter"/>
<rect x="634.6" y="1834.2" width="13" height="13" fill="none" stroke="#8e1b1b" stroke-width="3.2"/>
<rect x="607.9" y="1877.9" width="13" height="13" fill="none" stroke="#8e1b1b" stroke-width="3.2"/>
<rect x="650.8" y="1908.4" width="13" height="13" fill="none" stroke="#8e1b1b" stroke-width="3.2"/>
<rect x="540.6" y="1960.6" width="13" height="13" fill="none" stroke="#8e1b1b" stroke-width="3.2"/>
<rect x="549.1" y="1964.6" width="13" height="13" fill="none" stroke="#8e1b1b" stroke-width="3.2"/>
<rect x="592.4" y="1964.6" width="13" height="13" fill="none" stroke="#8e1b1b" stroke-width="3.2"/>
<rect x="625.1" y="1970.2" width="13" height="13" fill="none" stroke="#8e1b1b" stroke-width="3.2"/>
<rect x="633.9" y="1982.4" width="13" height="13" fill="none" stroke="#8e1b1b" stroke-width="3.2"/>
<rect x="569.1" y="2006.8" width="13" height="13" fill="none" stroke="#8e1b1b" stroke-width="3.2"/>
<rect x="680.6" y="1859.7" width="13" height="13" fill="none" stroke="#8e1b1b" stroke-width="3.2"/>
<rect x="769.1" y="1861.7" width="13" height="13" fill="none" stroke="#8e1b1b" stroke-width="3.2"/>
<rect x="772.4" y="1812.4" width="13" height="13" fill="none" stroke="#8e1b1b" stroke-width="3.2"/>
<rect x="744.6" y="1871.7" width="13" height="13" fill="none" stroke="#8e1b1b" stroke-width="3.2"/>
<rect x="792.4" y="1864.6" width="13" height="13" fill="none" stroke="#8e1b1b" stroke-width="3.2"/>
<rect x="803.5" y="1864.6" width="13" height="13" fill="none" stroke="#8e1b1b" stroke-width="3.2"/>
<rect x="812.4" y="1864.6" width="13" height="13" fill="none" stroke="#8e1b1b" stroke-width="3.2"/>
<rect x="723.5" y="1905.7" width="13" height="13" fill="none" stroke="#8e1b1b" stroke-width="3.2"/>
<rect x="705.7" y="1925.3" width="13" height="13" fill="none" stroke="#8e1b1b" stroke-width="3.2"/>
<rect x="723.5" y="1940.2" width="13" height="13" fill="none" stroke="#8e1b1b" stroke-width="3.2"/>
<rect x="805.7" y="1900.2" width="13" height="13" fill="none" stroke="#8e1b1b" stroke-width="3.2"/>
<rect x="792.4" y="1965.1" width="13" height="13" fill="none" stroke="#8e1b1b" stroke-width="3.2"/>
<rect x="913.5" y="1816.8" width="13" height="13" fill="none" stroke="#8e1b1b" stroke-width="3.2"/>
<rect x="899.7" y="1843.1" width="13" height="13" fill="none" stroke="#8e1b1b" stroke-width="3.2"/>
<rect x="966.4" y="1829.1" width="13" height="13" fill="none" stroke="#8e1b1b" stroke-width="3.2"/>
<rect x="839.5" y="1862.4" width="13" height="13" fill="none" stroke="#8e1b1b" stroke-width="3.2"/>
<rect x="773.5" y="1861.3" width="13" height="13" fill="none" stroke="#8e1b1b" stroke-width="3.2"/>
<rect x="843.9" y="1911.3" width="13" height="13" fill="none" stroke="#8e1b1b" stroke-width="3.2"/>
<rect x="931.7" y="1890.2" width="13" height="13" fill="none" stroke="#8e1b1b" stroke-width="3.2"/>
<rect x="946.2" y="1886.4" width="13" height="13" fill="none" stroke="#8e1b1b" stroke-width="3.2"/>
<rect x="966.2" y="1923.9" width="13" height="13" fill="none" stroke="#8e1b1b" stroke-width="3.2"/>
<rect x="929.1" y="1947.5" width="13" height="13" fill="none" stroke="#8e1b1b" stroke-width="3.2"/>
<rect x="924.6" y="1960.6" width="13" height="13" fill="none" stroke="#8e1b1b" stroke-width="3.2"/>
</g>
</g>
</svg>
</body></html>
